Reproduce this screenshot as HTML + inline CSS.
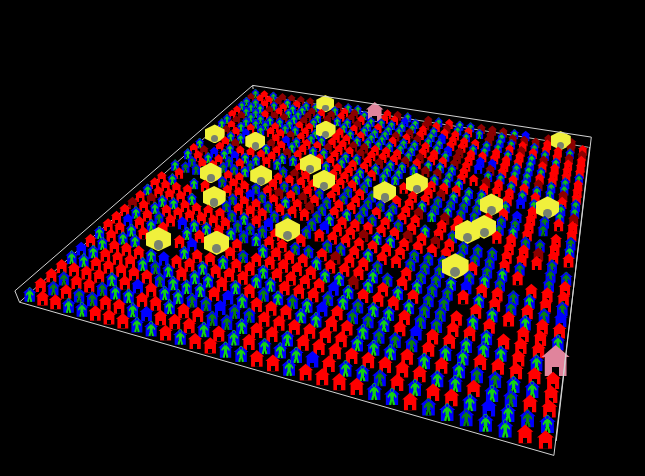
<!DOCTYPE html>
<html><head><meta charset="utf-8"><title>view</title>
<style>
html,body{margin:0;padding:0;background:#000;}
#v{position:relative;width:645px;height:476px;overflow:hidden;background:#000;}
#v i{position:absolute;display:block;}
.h{clip-path:polygon(5% 40%,50% 5%,95% 40%,85% 40%,85% 95%,15% 95%,15% 40%);}
.h::after{content:"";position:absolute;left:38%;top:68%;width:24%;height:27%;background:#000;}
.p{clip-path:polygon(50.0% 1.7%,50.0% 5.3%,45.2% 6.6%,41.6% 10.2%,40.3% 15.0%,41.6% 19.8%,45.2% 23.4%,50.0% 24.7%,54.8% 23.4%,58.4% 19.8%,59.7% 15.0%,58.4% 10.2%,54.8% 6.6%,50.0% 5.3%,50.0% 1.7%,54.2% 2.3%,58.0% 4.3%,60.9% 7.3%,62.8% 11.2%,63.3% 15.4%,62.5% 19.6%,60.5% 23.3%,57.3% 26.1%,57.3% 30.0%,65.0% 30.0%,80.0% 50.0%,75.0% 60.0%,62.9% 44.8%,60.0% 65.0%,70.0% 95.0%,65.0% 100.0%,55.0% 100.0%,50.0% 75.0%,45.0% 100.0%,35.0% 100.0%,30.0% 95.0%,40.0% 65.0%,37.1% 44.8%,25.0% 60.0%,20.0% 50.0%,35.0% 30.0%,42.7% 30.0%,42.7% 26.1%,39.5% 23.3%,37.5% 19.6%,36.7% 15.4%,37.2% 11.2%,39.1% 7.3%,42.0% 4.3%,45.8% 2.3%);}
.y{background:#f0f03c;clip-path:polygon(50% 0%,100% 27%,100% 74.7%,50% 100%,0% 74.7%,0% 27%);}
.c{border-radius:50%;background:#78826f;}
</style></head><body><div id="v">
<svg width="645" height="476" style="position:absolute;left:0;top:0" fill="none" stroke="#b4b4b4" stroke-width="1">
<path d="M19.5 302.2L253.6 94.3L588.6 147.3"/>
</svg><i class="h" style="left:250.8px;top:88.3px;width:9.3px;height:10.3px;background:#0000ff"></i><i class="p" style="left:251.4px;top:88.8px;width:8.1px;height:9.3px;background:#10c010"></i>
<i class="h" style="left:259.7px;top:89.7px;width:9.3px;height:10.3px;background:#ff0000"></i>
<i class="h" style="left:268.7px;top:91.1px;width:9.3px;height:10.4px;background:#0000ff"></i><i class="p" style="left:269.3px;top:91.6px;width:8.2px;height:9.3px;background:#10c010"></i>
<i class="h" style="left:246.3px;top:92.2px;width:9.4px;height:10.4px;background:#8c0000"></i>
<i class="h" style="left:277.8px;top:92.5px;width:9.4px;height:10.4px;background:#8c0000"></i>
<i class="h" style="left:255.3px;top:93.7px;width:9.4px;height:10.4px;background:#ff0000"></i>
<i class="h" style="left:286.9px;top:93.9px;width:9.4px;height:10.4px;background:#8c0000"></i>
<i class="h" style="left:264.4px;top:95.1px;width:9.4px;height:10.5px;background:#ff0000"></i>
<i class="h" style="left:296.1px;top:95.3px;width:9.5px;height:10.5px;background:#8c0000"></i>
<i class="h" style="left:241.7px;top:96.3px;width:9.5px;height:10.5px;background:#0000ff"></i><i class="p" style="left:242.3px;top:96.8px;width:8.3px;height:9.5px;background:#10c010"></i>
<i class="h" style="left:273.5px;top:96.5px;width:9.5px;height:10.5px;background:#8c0000"></i>
<i class="h" style="left:305.4px;top:96.8px;width:9.5px;height:10.5px;background:#8c0000"></i>
<i class="h" style="left:250.8px;top:97.7px;width:9.5px;height:10.6px;background:#0000ff"></i><i class="p" style="left:251.3px;top:98.2px;width:8.4px;height:9.5px;background:#10c010"></i>
<i class="h" style="left:282.7px;top:98.0px;width:9.5px;height:10.6px;background:#0000ff"></i><i class="p" style="left:283.3px;top:98.5px;width:8.4px;height:9.5px;background:#12d412"></i>
<i class="h" style="left:259.9px;top:99.2px;width:9.6px;height:10.6px;background:#ff0000"></i>
<i class="h" style="left:292.0px;top:99.4px;width:9.6px;height:10.6px;background:#ff0000"></i>
<i class="h" style="left:236.9px;top:100.4px;width:9.6px;height:10.6px;background:#0000ff"></i><i class="p" style="left:237.5px;top:100.9px;width:8.4px;height:9.6px;background:#10c010"></i>
<i class="h" style="left:269.2px;top:100.6px;width:9.6px;height:10.7px;background:#0000ff"></i><i class="p" style="left:269.7px;top:101.2px;width:8.4px;height:9.6px;background:#10c010"></i>
<i class="h" style="left:301.4px;top:100.9px;width:9.6px;height:10.7px;background:#0000ff"></i><i class="p" style="left:302.0px;top:101.4px;width:8.5px;height:9.6px;background:#10c010"></i>
<i class="h" style="left:333.7px;top:101.2px;width:9.6px;height:10.7px;background:#8c0000"></i>
<i class="h" style="left:246.1px;top:101.8px;width:9.6px;height:10.7px;background:#0000ff"></i><i class="p" style="left:246.7px;top:102.4px;width:8.5px;height:9.6px;background:#10c010"></i>
<i class="h" style="left:278.5px;top:102.1px;width:9.6px;height:10.7px;background:#ff0000"></i>
<i class="h" style="left:310.9px;top:102.4px;width:9.6px;height:10.7px;background:#0000ff"></i><i class="p" style="left:311.4px;top:102.9px;width:8.5px;height:9.6px;background:#10c010"></i>
<i class="h" style="left:343.3px;top:102.7px;width:9.7px;height:10.7px;background:#0000ff"></i><i class="p" style="left:343.9px;top:103.2px;width:8.5px;height:9.7px;background:#10c010"></i>
<i class="h" style="left:255.4px;top:103.3px;width:9.7px;height:10.7px;background:#0000ff"></i><i class="p" style="left:255.9px;top:103.9px;width:8.5px;height:9.7px;background:#12d412"></i>
<i class="h" style="left:287.9px;top:103.6px;width:9.7px;height:10.7px;background:#0000ff"></i><i class="p" style="left:288.4px;top:104.2px;width:8.5px;height:9.7px;background:#12d412"></i>
<i class="y" style="left:316.3px;top:95.1px;width:18.2px;height:17.4px"></i><i class="c" style="left:322.0px;top:104.7px;width:6.8px;height:6.8px"></i>
<i class="h" style="left:353.0px;top:104.2px;width:9.7px;height:10.8px;background:#0000ff"></i><i class="p" style="left:353.6px;top:104.7px;width:8.5px;height:9.7px;background:#10c010"></i>
<i class="h" style="left:232.1px;top:104.6px;width:9.7px;height:10.8px;background:#ff0000"></i>
<i class="h" style="left:264.7px;top:104.9px;width:9.7px;height:10.8px;background:#8c0000"></i>
<i class="h" style="left:297.3px;top:105.1px;width:9.7px;height:10.8px;background:#0000ff"></i><i class="p" style="left:297.9px;top:105.7px;width:8.6px;height:9.7px;background:#12d412"></i>
<i class="h" style="left:330.0px;top:105.4px;width:9.7px;height:10.8px;background:#0000ff"></i><i class="p" style="left:330.6px;top:105.9px;width:8.6px;height:9.7px;background:#10c010"></i>
<i class="h" style="left:241.3px;top:106.1px;width:9.8px;height:10.8px;background:#0000ff"></i><i class="p" style="left:241.9px;top:106.6px;width:8.6px;height:9.8px;background:#10c010"></i>
<i class="h" style="left:274.1px;top:106.4px;width:9.8px;height:10.8px;background:#ff0000"></i>
<i class="h" style="left:306.9px;top:106.7px;width:9.8px;height:10.8px;background:#8c0000"></i>
<i class="h" style="left:339.8px;top:106.9px;width:9.8px;height:10.9px;background:#ff0000"></i>
<i class="h" style="left:250.7px;top:107.6px;width:9.8px;height:10.9px;background:#0000ff"></i><i class="p" style="left:251.3px;top:108.2px;width:8.6px;height:9.8px;background:#10c010"></i>
<i class="h" style="left:283.6px;top:107.9px;width:9.8px;height:10.9px;background:#0000ff"></i><i class="p" style="left:284.2px;top:108.5px;width:8.6px;height:9.8px;background:#12d412"></i>
<i class="h" style="left:316.5px;top:108.2px;width:9.8px;height:10.9px;background:#ff0000"></i>
<i class="h" style="left:349.5px;top:108.5px;width:9.8px;height:10.9px;background:#8c0000"></i>
<i class="h" style="left:382.6px;top:108.8px;width:9.8px;height:10.9px;background:#ff0000"></i>
<i class="h" style="left:227.1px;top:108.9px;width:9.8px;height:10.9px;background:#ff0000"></i>
<i class="h" style="left:260.1px;top:109.2px;width:9.8px;height:10.9px;background:#ff0000"></i>
<i class="h" style="left:293.2px;top:109.5px;width:9.8px;height:10.9px;background:#0000ff"></i><i class="p" style="left:293.7px;top:110.0px;width:8.7px;height:9.8px;background:#10c010"></i>
<i class="h" style="left:326.3px;top:109.7px;width:9.9px;height:10.9px;background:#8c0000"></i>
<i class="h" style="left:359.4px;top:110.0px;width:9.9px;height:10.9px;background:#0000ff"></i><i class="p" style="left:360.0px;top:110.6px;width:8.7px;height:9.9px;background:#10c010"></i>
<i class="h" style="left:392.7px;top:110.3px;width:9.9px;height:11.0px;background:#8c0000"></i>
<i class="h" style="left:236.5px;top:110.4px;width:9.9px;height:11.0px;background:#8c0000"></i>
<i class="h" style="left:269.6px;top:110.7px;width:9.9px;height:11.0px;background:#8c0000"></i>
<i class="h" style="left:302.8px;top:111.0px;width:9.9px;height:11.0px;background:#8c0000"></i>
<i class="h" style="left:336.1px;top:111.3px;width:9.9px;height:11.0px;background:#ff0000"></i>
<i class="h" style="left:369.4px;top:111.6px;width:9.9px;height:11.0px;background:#0000ff"></i><i class="p" style="left:370.0px;top:112.2px;width:8.7px;height:9.9px;background:#10c010"></i>
<i class="h" style="left:402.8px;top:111.9px;width:9.9px;height:11.0px;background:#0000ff"></i><i class="p" style="left:403.4px;top:112.4px;width:8.7px;height:9.9px;background:#10c010"></i>
<i class="h" style="left:245.9px;top:112.0px;width:9.9px;height:11.0px;background:#0000ff"></i><i class="p" style="left:246.5px;top:112.6px;width:8.7px;height:9.9px;background:#10c010"></i>
<i class="h" style="left:279.2px;top:112.3px;width:9.9px;height:11.0px;background:#8c0000"></i>
<i class="h" style="left:312.6px;top:112.6px;width:9.9px;height:11.0px;background:#0000ff"></i><i class="p" style="left:313.2px;top:113.1px;width:8.7px;height:9.9px;background:#12d412"></i>
<i class="h" style="left:346.0px;top:112.9px;width:9.9px;height:11.0px;background:#8c0000"></i>
<i class="h" style="left:379.5px;top:113.2px;width:10.0px;height:11.0px;background:#ff0000"></i>
<i class="h" style="left:222.0px;top:113.3px;width:10.0px;height:11.0px;background:#0000ff"></i><i class="p" style="left:222.6px;top:113.9px;width:8.8px;height:10.0px;background:#10c010"></i>
<i class="h" style="left:365.0px;top:100.9px;width:19.5px;height:21.7px;background:#e0849c"></i>
<i class="h" style="left:255.4px;top:113.6px;width:10.0px;height:11.1px;background:#0000ff"></i><i class="p" style="left:256.0px;top:114.2px;width:8.8px;height:10.0px;background:#10c010"></i>
<i class="h" style="left:288.9px;top:113.9px;width:10.0px;height:11.1px;background:#0000ff"></i><i class="p" style="left:289.5px;top:114.4px;width:8.8px;height:10.0px;background:#12d412"></i>
<i class="h" style="left:322.4px;top:114.2px;width:10.0px;height:11.1px;background:#8c0000"></i>
<i class="h" style="left:356.0px;top:114.5px;width:10.0px;height:11.1px;background:#ff0000"></i>
<i class="h" style="left:389.6px;top:114.8px;width:10.0px;height:11.1px;background:#ff0000"></i>
<i class="h" style="left:231.4px;top:114.9px;width:10.0px;height:11.1px;background:#8c0000"></i>
<i class="h" style="left:423.3px;top:115.1px;width:10.0px;height:11.1px;background:#8c0000"></i>
<i class="h" style="left:265.0px;top:115.2px;width:10.0px;height:11.1px;background:#0000ff"></i><i class="p" style="left:265.6px;top:115.8px;width:8.8px;height:10.0px;background:#10c010"></i>
<i class="h" style="left:298.6px;top:115.5px;width:10.0px;height:11.1px;background:#8c0000"></i>
<i class="h" style="left:332.3px;top:115.8px;width:10.0px;height:11.1px;background:#0000ff"></i><i class="p" style="left:332.9px;top:116.4px;width:8.8px;height:10.0px;background:#12d412"></i>
<i class="h" style="left:366.1px;top:116.1px;width:10.0px;height:11.1px;background:#0000ff"></i><i class="p" style="left:366.7px;top:116.7px;width:8.8px;height:10.0px;background:#10c010"></i>
<i class="h" style="left:399.9px;top:116.4px;width:10.0px;height:11.1px;background:#0000ff"></i>
<i class="h" style="left:241.0px;top:116.5px;width:10.0px;height:11.1px;background:#0000ff"></i><i class="p" style="left:241.6px;top:117.1px;width:8.8px;height:10.0px;background:#10c010"></i>
<i class="h" style="left:433.7px;top:116.7px;width:10.0px;height:11.2px;background:#0000ff"></i><i class="p" style="left:434.3px;top:117.2px;width:8.8px;height:10.0px;background:#10c010"></i>
<i class="h" style="left:274.7px;top:116.8px;width:10.1px;height:11.2px;background:#0000ff"></i><i class="p" style="left:275.3px;top:117.4px;width:8.8px;height:10.1px;background:#10c010"></i>
<i class="h" style="left:308.5px;top:117.1px;width:10.1px;height:11.2px;background:#0000ff"></i><i class="p" style="left:309.1px;top:117.7px;width:8.9px;height:10.1px;background:#10c010"></i>
<i class="h" style="left:342.3px;top:117.4px;width:10.1px;height:11.2px;background:#0000ff"></i><i class="p" style="left:342.9px;top:118.0px;width:8.9px;height:10.1px;background:#10c010"></i>
<i class="h" style="left:376.2px;top:117.7px;width:10.1px;height:11.2px;background:#0000ff"></i><i class="p" style="left:376.8px;top:118.3px;width:8.9px;height:10.1px;background:#10c010"></i>
<i class="h" style="left:216.8px;top:117.9px;width:10.1px;height:11.2px;background:#0000ff"></i><i class="p" style="left:217.4px;top:118.4px;width:8.9px;height:10.1px;background:#12d412"></i>
<i class="h" style="left:410.2px;top:118.0px;width:10.1px;height:11.2px;background:#0000ff"></i><i class="p" style="left:410.8px;top:118.6px;width:8.9px;height:10.1px;background:#12d412"></i>
<i class="h" style="left:250.6px;top:118.2px;width:10.1px;height:11.2px;background:#0000ff"></i><i class="p" style="left:251.2px;top:118.7px;width:8.9px;height:10.1px;background:#10c010"></i>
<i class="h" style="left:444.2px;top:118.3px;width:10.1px;height:11.2px;background:#ff0000"></i>
<i class="h" style="left:284.5px;top:118.5px;width:10.1px;height:11.2px;background:#0000ff"></i><i class="p" style="left:285.1px;top:119.0px;width:8.9px;height:10.1px;background:#10c010"></i>
<i class="h" style="left:352.4px;top:119.1px;width:10.1px;height:11.2px;background:#8c0000"></i>
<i class="h" style="left:386.5px;top:119.4px;width:10.1px;height:11.2px;background:#0000ff"></i><i class="p" style="left:387.1px;top:119.9px;width:8.9px;height:10.1px;background:#10c010"></i>
<i class="h" style="left:226.3px;top:119.5px;width:10.1px;height:11.2px;background:#ff0000"></i>
<i class="h" style="left:420.6px;top:119.7px;width:10.1px;height:11.2px;background:#8c0000"></i>
<i class="h" style="left:260.3px;top:119.8px;width:10.1px;height:11.2px;background:#0000ff"></i><i class="p" style="left:260.9px;top:120.4px;width:8.9px;height:10.1px;background:#10c010"></i>
<i class="h" style="left:454.8px;top:120.0px;width:10.1px;height:11.3px;background:#0000ff"></i><i class="p" style="left:455.4px;top:120.5px;width:8.9px;height:10.1px;background:#12d412"></i>
<i class="h" style="left:294.3px;top:120.1px;width:10.1px;height:11.3px;background:#ff0000"></i>
<i class="h" style="left:362.6px;top:120.7px;width:10.2px;height:11.3px;background:#0000ff"></i><i class="p" style="left:363.2px;top:121.3px;width:8.9px;height:10.2px;background:#12d412"></i>
<i class="h" style="left:396.9px;top:121.0px;width:10.2px;height:11.3px;background:#0000ff"></i><i class="p" style="left:397.5px;top:121.6px;width:8.9px;height:10.2px;background:#12d412"></i>
<i class="h" style="left:235.9px;top:121.1px;width:10.2px;height:11.3px;background:#0000ff"></i><i class="p" style="left:236.5px;top:121.7px;width:9.0px;height:10.2px;background:#12d412"></i>
<i class="h" style="left:431.2px;top:121.3px;width:10.2px;height:11.3px;background:#ff0000"></i>
<i class="h" style="left:270.1px;top:121.5px;width:10.2px;height:11.3px;background:#ff0000"></i>
<i class="h" style="left:465.5px;top:121.6px;width:10.2px;height:11.3px;background:#0000ff"></i><i class="p" style="left:466.1px;top:122.2px;width:9.0px;height:10.2px;background:#10c010"></i>
<i class="h" style="left:304.3px;top:121.8px;width:10.2px;height:11.3px;background:#ff0000"></i>
<i class="h" style="left:338.6px;top:122.1px;width:10.2px;height:11.3px;background:#0000ff"></i><i class="p" style="left:339.2px;top:122.6px;width:9.0px;height:10.2px;background:#10c010"></i>
<i class="h" style="left:372.9px;top:122.4px;width:10.2px;height:11.3px;background:#ff0000"></i>
<i class="h" style="left:407.3px;top:122.7px;width:10.2px;height:11.3px;background:#0000ff"></i><i class="p" style="left:407.9px;top:123.2px;width:9.0px;height:10.2px;background:#10c010"></i>
<i class="h" style="left:245.6px;top:122.8px;width:10.2px;height:11.3px;background:#ff0000"></i>
<i class="h" style="left:441.8px;top:123.0px;width:10.2px;height:11.4px;background:#8c0000"></i>
<i class="h" style="left:280.0px;top:123.1px;width:10.2px;height:11.4px;background:#0000ff"></i><i class="p" style="left:280.6px;top:123.7px;width:9.0px;height:10.2px;background:#10c010"></i>
<i class="h" style="left:476.3px;top:123.3px;width:10.2px;height:11.4px;background:#8c0000"></i>
<i class="h" style="left:348.8px;top:123.7px;width:10.2px;height:11.4px;background:#ff0000"></i>
<i class="h" style="left:383.3px;top:124.1px;width:10.3px;height:11.4px;background:#0000ff"></i><i class="p" style="left:383.9px;top:124.6px;width:9.0px;height:10.3px;background:#10c010"></i>
<i class="h" style="left:221.0px;top:124.2px;width:10.3px;height:11.4px;background:#8c0000"></i>
<i class="h" style="left:417.9px;top:124.4px;width:10.3px;height:11.4px;background:#ff0000"></i>
<i class="h" style="left:255.5px;top:124.5px;width:10.3px;height:11.4px;background:#0000ff"></i><i class="p" style="left:256.1px;top:125.1px;width:9.0px;height:10.3px;background:#10c010"></i>
<i class="h" style="left:452.5px;top:124.7px;width:10.3px;height:11.4px;background:#0000ff"></i><i class="p" style="left:453.1px;top:125.2px;width:9.0px;height:10.3px;background:#10c010"></i>
<i class="h" style="left:289.9px;top:124.8px;width:10.3px;height:11.4px;background:#0000ff"></i><i class="p" style="left:290.6px;top:125.4px;width:9.0px;height:10.3px;background:#10c010"></i>
<i class="h" style="left:487.2px;top:125.0px;width:10.3px;height:11.4px;background:#8c0000"></i>
<i class="h" style="left:359.1px;top:125.4px;width:10.3px;height:11.4px;background:#0000ff"></i><i class="p" style="left:359.7px;top:126.0px;width:9.1px;height:10.3px;background:#10c010"></i>
<i class="h" style="left:393.8px;top:125.8px;width:10.3px;height:11.4px;background:#0000ff"></i><i class="p" style="left:394.4px;top:126.3px;width:9.1px;height:10.3px;background:#10c010"></i>
<i class="h" style="left:230.8px;top:125.9px;width:10.3px;height:11.4px;background:#ff0000"></i>
<i class="h" style="left:428.5px;top:126.1px;width:10.3px;height:11.4px;background:#0000ff"></i><i class="p" style="left:429.1px;top:126.6px;width:9.1px;height:10.3px;background:#10c010"></i>
<i class="h" style="left:265.4px;top:126.2px;width:10.3px;height:11.4px;background:#ff0000"></i>
<i class="h" style="left:463.3px;top:126.4px;width:10.3px;height:11.5px;background:#ff0000"></i>
<i class="h" style="left:300.0px;top:126.5px;width:10.3px;height:11.5px;background:#ff0000"></i>
<i class="h" style="left:498.2px;top:126.7px;width:10.3px;height:11.5px;background:#8c0000"></i>
<i class="h" style="left:334.7px;top:126.8px;width:10.3px;height:11.5px;background:#ff0000"></i>
<i class="h" style="left:369.5px;top:127.1px;width:10.3px;height:11.5px;background:#0000ff"></i><i class="p" style="left:370.1px;top:127.7px;width:9.1px;height:10.3px;background:#10c010"></i>
<i class="h" style="left:404.4px;top:127.5px;width:10.4px;height:11.5px;background:#8c0000"></i>
<i class="h" style="left:240.6px;top:127.6px;width:10.4px;height:11.5px;background:#0000ff"></i>
<i class="h" style="left:439.3px;top:127.8px;width:10.4px;height:11.5px;background:#ff0000"></i>
<i class="h" style="left:275.3px;top:127.9px;width:10.4px;height:11.5px;background:#ff0000"></i>
<i class="h" style="left:474.3px;top:128.1px;width:10.4px;height:11.5px;background:#0000ff"></i><i class="p" style="left:474.9px;top:128.7px;width:9.1px;height:10.4px;background:#10c010"></i>
<i class="h" style="left:310.2px;top:128.2px;width:10.4px;height:11.5px;background:#0000ff"></i><i class="p" style="left:310.8px;top:128.8px;width:9.1px;height:10.4px;background:#10c010"></i>
<i class="h" style="left:509.3px;top:128.4px;width:10.4px;height:11.5px;background:#0000ff"></i><i class="p" style="left:509.9px;top:129.0px;width:9.1px;height:10.4px;background:#12d412"></i>
<i class="h" style="left:345.1px;top:128.6px;width:10.4px;height:11.5px;background:#0000ff"></i><i class="p" style="left:345.7px;top:129.1px;width:9.1px;height:10.4px;background:#10c010"></i>
<i class="h" style="left:380.0px;top:128.9px;width:10.4px;height:11.5px;background:#0000ff"></i><i class="p" style="left:380.6px;top:129.4px;width:9.1px;height:10.4px;background:#10c010"></i>
<i class="h" style="left:415.0px;top:129.2px;width:10.4px;height:11.5px;background:#ff0000"></i>
<i class="h" style="left:450.1px;top:129.5px;width:10.4px;height:11.6px;background:#ff0000"></i>
<i class="h" style="left:285.4px;top:129.6px;width:10.4px;height:11.6px;background:#8c0000"></i>
<i class="h" style="left:485.3px;top:129.8px;width:10.4px;height:11.6px;background:#8c0000"></i>
<i class="y" style="left:316.0px;top:120.5px;width:19.6px;height:18.8px"></i><i class="c" style="left:322.1px;top:130.9px;width:7.3px;height:7.3px"></i>
<i class="h" style="left:520.5px;top:130.2px;width:10.4px;height:11.6px;background:#0000ff"></i>
<i class="h" style="left:355.5px;top:130.3px;width:10.4px;height:11.6px;background:#ff0000"></i>
<i class="h" style="left:390.6px;top:130.6px;width:10.4px;height:11.6px;background:#8c0000"></i>
<i class="h" style="left:225.5px;top:130.7px;width:10.4px;height:11.6px;background:#0000ff"></i><i class="p" style="left:226.1px;top:131.3px;width:9.2px;height:10.4px;background:#12d412"></i>
<i class="h" style="left:425.8px;top:130.9px;width:10.4px;height:11.6px;background:#0000ff"></i><i class="p" style="left:426.5px;top:131.5px;width:9.2px;height:10.4px;background:#10c010"></i>
<i class="h" style="left:461.1px;top:131.3px;width:10.5px;height:11.6px;background:#0000ff"></i><i class="p" style="left:461.7px;top:131.8px;width:9.2px;height:10.5px;background:#10c010"></i>
<i class="h" style="left:295.6px;top:131.4px;width:10.5px;height:11.6px;background:#ff0000"></i>
<i class="h" style="left:496.4px;top:131.6px;width:10.5px;height:11.6px;background:#0000ff"></i><i class="p" style="left:497.0px;top:132.2px;width:9.2px;height:10.5px;background:#12d412"></i>
<i class="h" style="left:330.8px;top:131.7px;width:10.5px;height:11.6px;background:#ff0000"></i>
<i class="h" style="left:366.0px;top:132.0px;width:10.5px;height:11.6px;background:#0000ff"></i><i class="p" style="left:366.7px;top:132.6px;width:9.2px;height:10.5px;background:#10c010"></i>
<i class="h" style="left:401.3px;top:132.4px;width:10.5px;height:11.6px;background:#ff0000"></i>
<i class="h" style="left:235.4px;top:132.5px;width:10.5px;height:11.6px;background:#0000ff"></i><i class="p" style="left:236.0px;top:133.1px;width:9.2px;height:10.5px;background:#12d412"></i>
<i class="h" style="left:436.7px;top:132.7px;width:10.5px;height:11.7px;background:#0000ff"></i>
<i class="h" style="left:270.6px;top:132.8px;width:10.5px;height:11.7px;background:#ff0000"></i>
<i class="h" style="left:305.9px;top:133.2px;width:10.5px;height:11.7px;background:#0000ff"></i><i class="p" style="left:306.5px;top:133.7px;width:9.2px;height:10.5px;background:#10c010"></i>
<i class="h" style="left:507.6px;top:133.4px;width:10.5px;height:11.7px;background:#8c0000"></i>
<i class="h" style="left:341.2px;top:133.5px;width:10.5px;height:11.7px;background:#ff0000"></i>
<i class="h" style="left:543.2px;top:133.7px;width:10.5px;height:11.7px;background:#8c0000"></i>
<i class="h" style="left:376.7px;top:133.8px;width:10.5px;height:11.7px;background:#0000ff"></i><i class="p" style="left:377.3px;top:134.4px;width:9.3px;height:10.5px;background:#10c010"></i>
<i class="y" style="left:204.8px;top:124.4px;width:19.8px;height:19.0px"></i><i class="c" style="left:211.0px;top:134.8px;width:7.4px;height:7.4px"></i>
<i class="h" style="left:412.1px;top:134.1px;width:10.5px;height:11.7px;background:#8c0000"></i>
<i class="h" style="left:447.7px;top:134.5px;width:10.5px;height:11.7px;background:#ff0000"></i>
<i class="h" style="left:280.8px;top:134.6px;width:10.5px;height:11.7px;background:#0000ff"></i>
<i class="h" style="left:483.3px;top:134.8px;width:10.6px;height:11.7px;background:#8c0000"></i>
<i class="h" style="left:316.3px;top:134.9px;width:10.6px;height:11.7px;background:#0000ff"></i><i class="p" style="left:316.9px;top:135.5px;width:9.3px;height:10.6px;background:#10c010"></i>
<i class="h" style="left:519.0px;top:135.1px;width:10.6px;height:11.7px;background:#8c0000"></i>
<i class="h" style="left:351.8px;top:135.3px;width:10.6px;height:11.7px;background:#0000ff"></i><i class="p" style="left:352.4px;top:135.9px;width:9.3px;height:10.6px;background:#10c010"></i>
<i class="h" style="left:387.4px;top:135.6px;width:10.6px;height:11.7px;background:#ff0000"></i>
<i class="h" style="left:220.0px;top:135.7px;width:10.6px;height:11.7px;background:#ff0000"></i>
<i class="h" style="left:423.0px;top:135.9px;width:10.6px;height:11.8px;background:#0000ff"></i><i class="p" style="left:423.7px;top:136.5px;width:9.3px;height:10.6px;background:#10c010"></i>
<i class="h" style="left:458.8px;top:136.3px;width:10.6px;height:11.8px;background:#ff0000"></i>
<i class="h" style="left:291.1px;top:136.4px;width:10.6px;height:11.8px;background:#0000ff"></i><i class="p" style="left:291.7px;top:137.0px;width:9.3px;height:10.6px;background:#10c010"></i>
<i class="h" style="left:494.6px;top:136.6px;width:10.6px;height:11.8px;background:#0000ff"></i><i class="p" style="left:495.2px;top:137.2px;width:9.3px;height:10.6px;background:#10c010"></i>
<i class="h" style="left:326.7px;top:136.7px;width:10.6px;height:11.8px;background:#ff0000"></i>
<i class="h" style="left:530.4px;top:136.9px;width:10.6px;height:11.8px;background:#8c0000"></i>
<i class="h" style="left:362.4px;top:137.1px;width:10.6px;height:11.8px;background:#0000ff"></i><i class="p" style="left:363.1px;top:137.7px;width:9.3px;height:10.6px;background:#10c010"></i>
<i class="h" style="left:194.4px;top:137.2px;width:10.6px;height:11.8px;background:#0000ff"></i><i class="p" style="left:195.0px;top:137.8px;width:9.3px;height:10.6px;background:#12d412"></i>
<i class="h" style="left:566.4px;top:137.3px;width:10.6px;height:11.8px;background:#8c0000"></i>
<i class="h" style="left:398.2px;top:137.4px;width:10.6px;height:11.8px;background:#0000ff"></i><i class="p" style="left:398.9px;top:138.0px;width:9.4px;height:10.6px;background:#10c010"></i>
<i class="h" style="left:230.0px;top:137.5px;width:10.6px;height:11.8px;background:#8c0000"></i>
<i class="h" style="left:434.1px;top:137.7px;width:10.6px;height:11.8px;background:#0000ff"></i><i class="p" style="left:434.7px;top:138.3px;width:9.4px;height:10.6px;background:#10c010"></i>
<i class="h" style="left:265.7px;top:137.9px;width:10.6px;height:11.8px;background:#8c0000"></i>
<i class="h" style="left:470.0px;top:138.1px;width:10.6px;height:11.8px;background:#ff0000"></i>
<i class="h" style="left:301.5px;top:138.2px;width:10.6px;height:11.8px;background:#ff0000"></i>
<i class="h" style="left:506.0px;top:138.4px;width:10.7px;height:11.8px;background:#0000ff"></i><i class="p" style="left:506.6px;top:139.0px;width:9.4px;height:10.7px;background:#10c010"></i>
<i class="h" style="left:337.3px;top:138.6px;width:10.7px;height:11.8px;background:#ff0000"></i>
<i class="h" style="left:542.0px;top:138.8px;width:10.7px;height:11.8px;background:#ff0000"></i>
<i class="h" style="left:373.2px;top:138.9px;width:10.7px;height:11.8px;background:#0000ff"></i><i class="p" style="left:373.8px;top:139.5px;width:9.4px;height:10.7px;background:#10c010"></i>
<i class="h" style="left:409.2px;top:139.2px;width:10.7px;height:11.9px;background:#0000ff"></i><i class="p" style="left:409.8px;top:139.8px;width:9.4px;height:10.7px;background:#10c010"></i>
<i class="h" style="left:445.2px;top:139.6px;width:10.7px;height:11.9px;background:#ff0000"></i>
<i class="h" style="left:276.0px;top:139.7px;width:10.7px;height:11.9px;background:#ff0000"></i>
<i class="h" style="left:481.3px;top:139.9px;width:10.7px;height:11.9px;background:#0000ff"></i><i class="p" style="left:481.9px;top:140.5px;width:9.4px;height:10.7px;background:#10c010"></i>
<i class="h" style="left:312.0px;top:140.1px;width:10.7px;height:11.9px;background:#ff0000"></i>
<i class="h" style="left:517.4px;top:140.3px;width:10.7px;height:11.9px;background:#ff0000"></i>
<i class="h" style="left:348.0px;top:140.4px;width:10.7px;height:11.9px;background:#8c0000"></i>
<i class="y" style="left:550.6px;top:130.9px;width:20.2px;height:19.3px"></i><i class="c" style="left:556.9px;top:141.5px;width:7.5px;height:7.5px"></i>
<i class="h" style="left:384.1px;top:140.7px;width:10.7px;height:11.9px;background:#0000ff"></i><i class="p" style="left:384.7px;top:141.3px;width:9.4px;height:10.7px;background:#10c010"></i>
<i class="h" style="left:214.4px;top:140.9px;width:10.7px;height:11.9px;background:#ff0000"></i>
<i class="h" style="left:420.2px;top:141.1px;width:10.7px;height:11.9px;background:#ff0000"></i>
<i class="y" style="left:245.3px;top:131.5px;width:20.2px;height:19.3px"></i><i class="c" style="left:251.6px;top:142.1px;width:7.5px;height:7.5px"></i>
<i class="h" style="left:456.4px;top:141.4px;width:10.7px;height:11.9px;background:#ff0000"></i>
<i class="h" style="left:286.4px;top:141.6px;width:10.7px;height:11.9px;background:#0000ff"></i><i class="p" style="left:287.1px;top:142.1px;width:9.5px;height:10.7px;background:#12d412"></i>
<i class="h" style="left:492.7px;top:141.8px;width:10.8px;height:11.9px;background:#0000ff"></i><i class="p" style="left:493.3px;top:142.4px;width:9.5px;height:10.8px;background:#10c010"></i>
<i class="h" style="left:322.6px;top:141.9px;width:10.8px;height:11.9px;background:#8c0000"></i>
<i class="h" style="left:529.0px;top:142.1px;width:10.8px;height:11.9px;background:#0000ff"></i><i class="p" style="left:529.7px;top:142.7px;width:9.5px;height:10.8px;background:#10c010"></i>
<i class="h" style="left:358.8px;top:142.2px;width:10.8px;height:11.9px;background:#8c0000"></i>
<i class="h" style="left:188.4px;top:142.4px;width:10.8px;height:11.9px;background:#ff0000"></i>
<i class="h" style="left:565.5px;top:142.4px;width:10.8px;height:12.0px;background:#8c0000"></i>
<i class="h" style="left:395.0px;top:142.6px;width:10.8px;height:12.0px;background:#0000ff"></i><i class="p" style="left:395.7px;top:143.2px;width:9.5px;height:10.8px;background:#10c010"></i>
<i class="h" style="left:224.5px;top:142.7px;width:10.8px;height:12.0px;background:#0000ff"></i><i class="p" style="left:225.2px;top:143.3px;width:9.5px;height:10.8px;background:#12d412"></i>
<i class="h" style="left:431.3px;top:142.9px;width:10.8px;height:12.0px;background:#0000ff"></i><i class="p" style="left:432.0px;top:143.5px;width:9.5px;height:10.8px;background:#10c010"></i>
<i class="h" style="left:260.7px;top:143.1px;width:10.8px;height:12.0px;background:#0000ff"></i><i class="p" style="left:261.4px;top:143.7px;width:9.5px;height:10.8px;background:#12d412"></i>
<i class="h" style="left:467.7px;top:143.3px;width:10.8px;height:12.0px;background:#0000ff"></i><i class="p" style="left:468.4px;top:143.9px;width:9.5px;height:10.8px;background:#10c010"></i>
<i class="h" style="left:297.0px;top:143.4px;width:10.8px;height:12.0px;background:#ff0000"></i>
<i class="h" style="left:504.2px;top:143.6px;width:10.8px;height:12.0px;background:#ff0000"></i>
<i class="h" style="left:333.3px;top:143.8px;width:10.8px;height:12.0px;background:#ff0000"></i>
<i class="h" style="left:540.7px;top:144.0px;width:10.8px;height:12.0px;background:#ff0000"></i>
<i class="h" style="left:369.6px;top:144.1px;width:10.8px;height:12.0px;background:#ff0000"></i>
<i class="h" style="left:198.5px;top:144.3px;width:10.8px;height:12.0px;background:#8c0000"></i>
<i class="h" style="left:577.4px;top:144.3px;width:10.8px;height:12.0px;background:#ff0000"></i>
<i class="h" style="left:406.1px;top:144.5px;width:10.8px;height:12.0px;background:#0000ff"></i><i class="p" style="left:406.7px;top:145.1px;width:9.5px;height:10.8px;background:#10c010"></i>
<i class="h" style="left:234.8px;top:144.6px;width:10.8px;height:12.0px;background:#ff0000"></i>
<i class="h" style="left:442.6px;top:144.8px;width:10.8px;height:12.0px;background:#0000ff"></i>
<i class="h" style="left:271.1px;top:144.9px;width:10.8px;height:12.0px;background:#ff0000"></i>
<i class="h" style="left:479.2px;top:145.2px;width:10.8px;height:12.0px;background:#0000ff"></i><i class="p" style="left:479.8px;top:145.8px;width:9.5px;height:10.8px;background:#10c010"></i>
<i class="h" style="left:307.6px;top:145.3px;width:10.8px;height:12.0px;background:#0000ff"></i><i class="p" style="left:308.2px;top:145.9px;width:9.5px;height:10.8px;background:#10c010"></i>
<i class="h" style="left:515.8px;top:145.5px;width:10.9px;height:12.1px;background:#8c0000"></i>
<i class="h" style="left:344.1px;top:145.6px;width:10.9px;height:12.1px;background:#ff0000"></i>
<i class="h" style="left:552.6px;top:145.9px;width:10.9px;height:12.1px;background:#ff0000"></i>
<i class="h" style="left:380.6px;top:146.0px;width:10.9px;height:12.1px;background:#ff0000"></i>
<i class="h" style="left:208.7px;top:146.1px;width:10.9px;height:12.1px;background:#0000ff"></i>
<i class="h" style="left:417.3px;top:146.4px;width:10.9px;height:12.1px;background:#ff0000"></i>
<i class="h" style="left:245.1px;top:146.5px;width:10.9px;height:12.1px;background:#ff0000"></i>
<i class="h" style="left:454.0px;top:146.7px;width:10.9px;height:12.1px;background:#8c0000"></i>
<i class="h" style="left:281.7px;top:146.8px;width:10.9px;height:12.1px;background:#8c0000"></i>
<i class="h" style="left:490.7px;top:147.1px;width:10.9px;height:12.1px;background:#ff0000"></i>
<i class="h" style="left:318.3px;top:147.2px;width:10.9px;height:12.1px;background:#0000ff"></i><i class="p" style="left:318.9px;top:147.8px;width:9.6px;height:10.9px;background:#10c010"></i>
<i class="h" style="left:527.6px;top:147.4px;width:10.9px;height:12.1px;background:#ff0000"></i>
<i class="h" style="left:355.0px;top:147.6px;width:10.9px;height:12.1px;background:#8c0000"></i>
<i class="h" style="left:182.3px;top:147.7px;width:10.9px;height:12.1px;background:#0000ff"></i><i class="p" style="left:183.0px;top:148.3px;width:9.6px;height:10.9px;background:#12d412"></i>
<i class="h" style="left:564.5px;top:147.8px;width:10.9px;height:12.1px;background:#0000ff"></i><i class="p" style="left:565.2px;top:148.4px;width:9.6px;height:10.9px;background:#10c010"></i>
<i class="h" style="left:391.7px;top:147.9px;width:10.9px;height:12.1px;background:#ff0000"></i>
<i class="h" style="left:218.9px;top:148.0px;width:10.9px;height:12.1px;background:#0000ff"></i><i class="p" style="left:219.6px;top:148.6px;width:9.6px;height:10.9px;background:#12d412"></i>
<i class="h" style="left:428.6px;top:148.3px;width:10.9px;height:12.1px;background:#ff0000"></i>
<i class="h" style="left:255.6px;top:148.4px;width:10.9px;height:12.1px;background:#ff0000"></i>
<i class="h" style="left:465.5px;top:148.6px;width:10.9px;height:12.1px;background:#ff0000"></i>
<i class="h" style="left:292.3px;top:148.8px;width:10.9px;height:12.1px;background:#ff0000"></i>
<i class="h" style="left:502.4px;top:149.0px;width:11.0px;height:12.2px;background:#0000ff"></i><i class="p" style="left:503.1px;top:149.6px;width:9.6px;height:11.0px;background:#10c010"></i>
<i class="h" style="left:329.1px;top:149.1px;width:11.0px;height:12.2px;background:#ff0000"></i>
<i class="h" style="left:539.5px;top:149.3px;width:11.0px;height:12.2px;background:#0000ff"></i><i class="p" style="left:540.1px;top:149.9px;width:9.6px;height:11.0px;background:#10c010"></i>
<i class="h" style="left:366.0px;top:149.5px;width:11.0px;height:12.2px;background:#ff0000"></i>
<i class="h" style="left:192.5px;top:149.6px;width:11.0px;height:12.2px;background:#ff0000"></i>
<i class="h" style="left:576.6px;top:149.7px;width:11.0px;height:12.2px;background:#8c0000"></i>
<i class="h" style="left:402.9px;top:149.8px;width:11.0px;height:12.2px;background:#0000ff"></i><i class="p" style="left:403.6px;top:150.4px;width:9.7px;height:11.0px;background:#10c010"></i>
<i class="h" style="left:229.3px;top:150.0px;width:11.0px;height:12.2px;background:#0000ff"></i>
<i class="h" style="left:440.0px;top:150.2px;width:11.0px;height:12.2px;background:#0000ff"></i><i class="p" style="left:440.6px;top:150.8px;width:9.7px;height:11.0px;background:#10c010"></i>
<i class="h" style="left:266.1px;top:150.3px;width:11.0px;height:12.2px;background:#ff0000"></i>
<i class="h" style="left:477.0px;top:150.6px;width:11.0px;height:12.2px;background:#ff0000"></i>
<i class="h" style="left:514.2px;top:150.9px;width:11.0px;height:12.2px;background:#ff0000"></i>
<i class="h" style="left:340.0px;top:151.1px;width:11.0px;height:12.2px;background:#0000ff"></i><i class="p" style="left:340.7px;top:151.7px;width:9.7px;height:11.0px;background:#10c010"></i>
<i class="h" style="left:551.4px;top:151.3px;width:11.0px;height:12.2px;background:#ff0000"></i>
<i class="h" style="left:377.1px;top:151.4px;width:11.0px;height:12.2px;background:#ff0000"></i>
<i class="h" style="left:202.7px;top:151.6px;width:11.0px;height:12.2px;background:#0000ff"></i><i class="p" style="left:203.4px;top:152.2px;width:9.7px;height:11.0px;background:#12d412"></i>
<i class="h" style="left:414.3px;top:151.8px;width:11.0px;height:12.2px;background:#8c0000"></i>
<i class="h" style="left:239.7px;top:151.9px;width:11.0px;height:12.2px;background:#0000ff"></i><i class="p" style="left:240.4px;top:152.5px;width:9.7px;height:11.0px;background:#12d412"></i>
<i class="h" style="left:451.5px;top:152.1px;width:11.0px;height:12.3px;background:#8c0000"></i>
<i class="h" style="left:276.8px;top:152.3px;width:11.0px;height:12.3px;background:#0000ff"></i><i class="p" style="left:277.4px;top:152.9px;width:9.7px;height:11.0px;background:#12d412"></i>
<i class="h" style="left:488.8px;top:152.5px;width:11.1px;height:12.3px;background:#ff0000"></i>
<i class="h" style="left:313.9px;top:152.6px;width:11.1px;height:12.3px;background:#ff0000"></i>
<i class="h" style="left:526.1px;top:152.9px;width:11.1px;height:12.3px;background:#0000ff"></i><i class="p" style="left:526.8px;top:153.5px;width:9.7px;height:11.1px;background:#12d412"></i>
<i class="h" style="left:351.1px;top:153.0px;width:11.1px;height:12.3px;background:#0000ff"></i><i class="p" style="left:351.7px;top:153.6px;width:9.7px;height:11.1px;background:#10c010"></i>
<i class="h" style="left:563.6px;top:153.2px;width:11.1px;height:12.3px;background:#8c0000"></i>
<i class="h" style="left:388.3px;top:153.4px;width:11.1px;height:12.3px;background:#ff0000"></i>
<i class="h" style="left:213.1px;top:153.5px;width:11.1px;height:12.3px;background:#ff0000"></i>
<i class="h" style="left:425.7px;top:153.7px;width:11.1px;height:12.3px;background:#ff0000"></i>
<i class="h" style="left:250.3px;top:153.9px;width:11.1px;height:12.3px;background:#0000ff"></i><i class="p" style="left:250.9px;top:154.5px;width:9.8px;height:11.1px;background:#10c010"></i>
<i class="h" style="left:463.1px;top:154.1px;width:11.1px;height:12.3px;background:#ff0000"></i>
<i class="h" style="left:287.5px;top:154.3px;width:11.1px;height:12.3px;background:#0000ff"></i><i class="p" style="left:288.2px;top:154.9px;width:9.8px;height:11.1px;background:#10c010"></i>
<i class="h" style="left:500.6px;top:154.5px;width:11.1px;height:12.3px;background:#ff0000"></i>
<i class="h" style="left:324.8px;top:154.6px;width:11.1px;height:12.3px;background:#ff0000"></i>
<i class="h" style="left:538.1px;top:154.8px;width:11.1px;height:12.3px;background:#8c0000"></i>
<i class="h" style="left:362.2px;top:155.0px;width:11.1px;height:12.3px;background:#ff0000"></i>
<i class="h" style="left:186.3px;top:155.1px;width:11.1px;height:12.3px;background:#0000ff"></i><i class="p" style="left:187.0px;top:155.7px;width:9.8px;height:11.1px;background:#0a820a"></i>
<i class="h" style="left:575.8px;top:155.2px;width:11.1px;height:12.4px;background:#ff0000"></i>
<i class="h" style="left:399.7px;top:155.4px;width:11.1px;height:12.4px;background:#8c0000"></i>
<i class="h" style="left:223.6px;top:155.5px;width:11.1px;height:12.4px;background:#0000ff"></i><i class="p" style="left:224.2px;top:156.1px;width:9.8px;height:11.1px;background:#0a820a"></i>
<i class="h" style="left:437.2px;top:155.7px;width:11.1px;height:12.4px;background:#ff0000"></i>
<i class="h" style="left:260.9px;top:155.9px;width:11.1px;height:12.4px;background:#ff0000"></i>
<i class="h" style="left:474.8px;top:156.1px;width:11.2px;height:12.4px;background:#0000ff"></i>
<i class="h" style="left:512.5px;top:156.5px;width:11.2px;height:12.4px;background:#ff0000"></i>
<i class="h" style="left:335.9px;top:156.6px;width:11.2px;height:12.4px;background:#0000ff"></i><i class="p" style="left:336.6px;top:157.2px;width:9.8px;height:11.2px;background:#10c010"></i>
<i class="h" style="left:550.3px;top:156.8px;width:11.2px;height:12.4px;background:#0000ff"></i><i class="p" style="left:551.0px;top:157.5px;width:9.8px;height:11.2px;background:#12d412"></i>
<i class="h" style="left:373.5px;top:157.0px;width:11.2px;height:12.4px;background:#8c0000"></i>
<i class="h" style="left:196.7px;top:157.1px;width:11.2px;height:12.4px;background:#ff0000"></i>
<i class="h" style="left:411.2px;top:157.4px;width:11.2px;height:12.4px;background:#ff0000"></i>
<i class="h" style="left:234.2px;top:157.5px;width:11.2px;height:12.4px;background:#ff0000"></i>
<i class="h" style="left:448.9px;top:157.7px;width:11.2px;height:12.4px;background:#8c0000"></i>
<i class="h" style="left:271.7px;top:157.9px;width:11.2px;height:12.4px;background:#0000ff"></i><i class="p" style="left:272.4px;top:158.5px;width:9.9px;height:11.2px;background:#10c010"></i>
<i class="h" style="left:486.7px;top:158.1px;width:11.2px;height:12.4px;background:#0000ff"></i>
<i class="h" style="left:524.6px;top:158.5px;width:11.2px;height:12.5px;background:#0000ff"></i><i class="p" style="left:525.3px;top:159.1px;width:9.9px;height:11.2px;background:#12d412"></i>
<i class="h" style="left:347.1px;top:158.6px;width:11.2px;height:12.5px;background:#ff0000"></i>
<i class="h" style="left:169.5px;top:158.8px;width:11.2px;height:12.5px;background:#0000ff"></i><i class="p" style="left:170.2px;top:159.4px;width:9.9px;height:11.2px;background:#12d412"></i>
<i class="h" style="left:562.6px;top:158.9px;width:11.2px;height:12.5px;background:#ff0000"></i>
<i class="h" style="left:384.9px;top:159.0px;width:11.2px;height:12.5px;background:#0000ff"></i><i class="p" style="left:385.5px;top:159.6px;width:9.9px;height:11.2px;background:#10c010"></i>
<i class="h" style="left:207.1px;top:159.1px;width:11.2px;height:12.5px;background:#ff0000"></i>
<i class="h" style="left:422.7px;top:159.4px;width:11.2px;height:12.5px;background:#0000ff"></i><i class="p" style="left:423.4px;top:160.0px;width:9.9px;height:11.2px;background:#12d412"></i>
<i class="h" style="left:244.8px;top:159.5px;width:11.2px;height:12.5px;background:#0000ff"></i><i class="p" style="left:245.5px;top:160.1px;width:9.9px;height:11.2px;background:#0a820a"></i>
<i class="h" style="left:460.7px;top:159.8px;width:11.3px;height:12.5px;background:#ff0000"></i>
<i class="h" style="left:498.7px;top:160.1px;width:11.3px;height:12.5px;background:#ff0000"></i>
<i class="h" style="left:320.5px;top:160.3px;width:11.3px;height:12.5px;background:#0000ff"></i><i class="p" style="left:321.1px;top:160.9px;width:9.9px;height:11.3px;background:#10c010"></i>
<i class="h" style="left:536.8px;top:160.5px;width:11.3px;height:12.5px;background:#ff0000"></i>
<i class="h" style="left:358.4px;top:160.7px;width:11.3px;height:12.5px;background:#ff0000"></i>
<i class="h" style="left:179.9px;top:160.8px;width:11.3px;height:12.5px;background:#0000ff"></i><i class="p" style="left:180.6px;top:161.4px;width:9.9px;height:11.3px;background:#0a820a"></i>
<i class="h" style="left:575.0px;top:160.9px;width:11.3px;height:12.5px;background:#ff0000"></i>
<i class="h" style="left:396.4px;top:161.0px;width:11.3px;height:12.5px;background:#0000ff"></i><i class="p" style="left:397.0px;top:161.7px;width:9.9px;height:11.3px;background:#10c010"></i>
<i class="h" style="left:217.7px;top:161.2px;width:11.3px;height:12.5px;background:#0000ff"></i><i class="p" style="left:218.4px;top:161.8px;width:9.9px;height:11.3px;background:#0a820a"></i>
<i class="h" style="left:434.4px;top:161.4px;width:11.3px;height:12.5px;background:#0000ff"></i><i class="p" style="left:435.1px;top:162.0px;width:9.9px;height:11.3px;background:#12d412"></i>
<i class="h" style="left:472.6px;top:161.8px;width:11.3px;height:12.6px;background:#0000ff"></i>
<i class="h" style="left:293.6px;top:161.9px;width:11.3px;height:12.6px;background:#ff0000"></i>
<i class="h" style="left:510.8px;top:162.2px;width:11.3px;height:12.6px;background:#0000ff"></i><i class="p" style="left:511.5px;top:162.8px;width:10.0px;height:11.3px;background:#10c010"></i>
<i class="h" style="left:331.7px;top:162.3px;width:11.3px;height:12.6px;background:#ff0000"></i>
<i class="h" style="left:549.1px;top:162.6px;width:11.3px;height:12.6px;background:#ff0000"></i>
<i class="h" style="left:369.8px;top:162.7px;width:11.3px;height:12.6px;background:#0000ff"></i><i class="p" style="left:370.5px;top:163.3px;width:10.0px;height:11.3px;background:#10c010"></i>
<i class="h" style="left:190.4px;top:162.9px;width:11.3px;height:12.6px;background:#0000ff"></i><i class="p" style="left:191.1px;top:163.5px;width:10.0px;height:11.3px;background:#0a820a"></i>
<i class="h" style="left:408.0px;top:163.1px;width:11.3px;height:12.6px;background:#0000ff"></i><i class="p" style="left:408.7px;top:163.7px;width:10.0px;height:11.3px;background:#10c010"></i>
<i class="h" style="left:228.4px;top:163.2px;width:11.3px;height:12.6px;background:#0000ff"></i><i class="p" style="left:229.1px;top:163.9px;width:10.0px;height:11.3px;background:#0a820a"></i>
<i class="h" style="left:446.2px;top:163.5px;width:11.4px;height:12.6px;background:#0000ff"></i><i class="p" style="left:446.9px;top:164.1px;width:10.0px;height:11.4px;background:#10c010"></i>
<i class="h" style="left:484.6px;top:163.9px;width:11.4px;height:12.6px;background:#8c0000"></i>
<i class="y" style="left:299.7px;top:153.7px;width:21.4px;height:20.5px"></i><i class="c" style="left:306.4px;top:165.0px;width:8.0px;height:8.0px"></i>
<i class="h" style="left:523.0px;top:164.2px;width:11.4px;height:12.6px;background:#0000ff"></i><i class="p" style="left:523.7px;top:164.9px;width:10.0px;height:11.4px;background:#12d412"></i>
<i class="h" style="left:343.0px;top:164.4px;width:11.4px;height:12.6px;background:#ff0000"></i>
<i class="h" style="left:561.5px;top:164.6px;width:11.4px;height:12.6px;background:#ff0000"></i>
<i class="h" style="left:381.3px;top:164.8px;width:11.4px;height:12.6px;background:#0000ff"></i><i class="p" style="left:382.0px;top:165.4px;width:10.0px;height:11.4px;background:#10c010"></i>
<i class="h" style="left:419.7px;top:165.2px;width:11.4px;height:12.7px;background:#8c0000"></i>
<i class="h" style="left:239.2px;top:165.3px;width:11.4px;height:12.7px;background:#0000ff"></i><i class="p" style="left:239.9px;top:165.9px;width:10.0px;height:11.4px;background:#12d412"></i>
<i class="h" style="left:458.2px;top:165.6px;width:11.4px;height:12.7px;background:#ff0000"></i>
<i class="h" style="left:277.6px;top:165.7px;width:11.4px;height:12.7px;background:#0000ff"></i><i class="p" style="left:278.2px;top:166.3px;width:10.0px;height:11.4px;background:#0a820a"></i>
<i class="h" style="left:496.7px;top:165.9px;width:11.4px;height:12.7px;background:#ff0000"></i>
<i class="h" style="left:535.4px;top:166.3px;width:11.4px;height:12.7px;background:#0000ff"></i><i class="p" style="left:536.1px;top:167.0px;width:10.1px;height:11.4px;background:#10c010"></i>
<i class="h" style="left:354.4px;top:166.5px;width:11.4px;height:12.7px;background:#0000ff"></i><i class="p" style="left:355.1px;top:167.1px;width:10.1px;height:11.4px;background:#10c010"></i>
<i class="h" style="left:173.4px;top:166.6px;width:11.4px;height:12.7px;background:#ff0000"></i>
<i class="h" style="left:574.1px;top:166.7px;width:11.4px;height:12.7px;background:#ff0000"></i>
<i class="h" style="left:392.9px;top:166.9px;width:11.5px;height:12.7px;background:#0000ff"></i><i class="p" style="left:393.6px;top:167.5px;width:10.1px;height:11.5px;background:#10c010"></i>
<i class="h" style="left:431.6px;top:167.3px;width:11.5px;height:12.7px;background:#8c0000"></i>
<i class="h" style="left:288.7px;top:167.8px;width:11.5px;height:12.7px;background:#8c0000"></i>
<i class="h" style="left:509.0px;top:168.1px;width:11.5px;height:12.7px;background:#0000ff"></i><i class="p" style="left:509.7px;top:168.7px;width:10.1px;height:11.5px;background:#10c010"></i>
<i class="h" style="left:327.3px;top:168.2px;width:11.5px;height:12.8px;background:#ff0000"></i>
<i class="h" style="left:547.9px;top:168.5px;width:11.5px;height:12.8px;background:#ff0000"></i>
<i class="h" style="left:365.9px;top:168.6px;width:11.5px;height:12.8px;background:#ff0000"></i>
<i class="h" style="left:222.5px;top:169.1px;width:11.5px;height:12.8px;background:#ff0000"></i>
<i class="h" style="left:443.5px;top:169.4px;width:11.5px;height:12.8px;background:#0000ff"></i><i class="p" style="left:444.2px;top:170.0px;width:10.1px;height:11.5px;background:#10c010"></i>
<i class="h" style="left:482.4px;top:169.8px;width:11.5px;height:12.8px;background:#0000ff"></i><i class="p" style="left:483.1px;top:170.4px;width:10.1px;height:11.5px;background:#10c010"></i>
<i class="h" style="left:299.9px;top:169.9px;width:11.5px;height:12.8px;background:#ff0000"></i>
<i class="h" style="left:521.4px;top:170.2px;width:11.5px;height:12.8px;background:#0000ff"></i><i class="p" style="left:522.1px;top:170.8px;width:10.2px;height:11.5px;background:#10c010"></i>
<i class="h" style="left:338.7px;top:170.3px;width:11.5px;height:12.8px;background:#ff0000"></i>
<i class="h" style="left:156.0px;top:170.5px;width:11.5px;height:12.8px;background:#ff0000"></i>
<i class="h" style="left:560.5px;top:170.6px;width:11.6px;height:12.8px;background:#ff0000"></i>
<i class="h" style="left:377.6px;top:170.7px;width:11.6px;height:12.8px;background:#0000ff"></i><i class="p" style="left:378.3px;top:171.4px;width:10.2px;height:11.6px;background:#10c010"></i>
<i class="h" style="left:233.5px;top:171.3px;width:11.6px;height:12.8px;background:#ff0000"></i>
<i class="h" style="left:455.6px;top:171.5px;width:11.6px;height:12.9px;background:#ff0000"></i>
<i class="h" style="left:272.3px;top:171.7px;width:11.6px;height:12.9px;background:#ff0000"></i>
<i class="h" style="left:494.7px;top:171.9px;width:11.6px;height:12.9px;background:#0000ff"></i><i class="p" style="left:495.4px;top:172.6px;width:10.2px;height:11.6px;background:#10c010"></i>
<i class="h" style="left:533.9px;top:172.3px;width:11.6px;height:12.9px;background:#ff0000"></i>
<i class="h" style="left:350.3px;top:172.5px;width:11.6px;height:12.9px;background:#0000ff"></i><i class="p" style="left:351.0px;top:173.1px;width:10.2px;height:11.6px;background:#12d412"></i>
<i class="h" style="left:166.6px;top:172.6px;width:11.6px;height:12.9px;background:#0000ff"></i><i class="p" style="left:167.3px;top:173.3px;width:10.2px;height:11.6px;background:#12d412"></i>
<i class="h" style="left:573.2px;top:172.7px;width:11.6px;height:12.9px;background:#0000ff"></i><i class="p" style="left:573.9px;top:173.4px;width:10.2px;height:11.6px;background:#10c010"></i>
<i class="h" style="left:389.4px;top:172.9px;width:11.6px;height:12.9px;background:#0000ff"></i><i class="p" style="left:390.1px;top:173.5px;width:10.2px;height:11.6px;background:#10c010"></i>
<i class="y" style="left:199.8px;top:162.5px;width:21.8px;height:20.9px"></i><i class="c" style="left:206.6px;top:174.0px;width:8.1px;height:8.1px"></i>
<i class="h" style="left:428.6px;top:173.3px;width:11.6px;height:12.9px;background:#0000ff"></i><i class="p" style="left:429.3px;top:173.9px;width:10.2px;height:11.6px;background:#10c010"></i>
<i class="h" style="left:467.8px;top:173.7px;width:11.6px;height:12.9px;background:#ff0000"></i>
<i class="h" style="left:283.6px;top:173.9px;width:11.6px;height:12.9px;background:#ff0000"></i>
<i class="h" style="left:507.2px;top:174.1px;width:11.7px;height:12.9px;background:#ff0000"></i>
<i class="h" style="left:546.6px;top:174.5px;width:11.7px;height:13.0px;background:#ff0000"></i>
<i class="h" style="left:362.0px;top:174.7px;width:11.7px;height:13.0px;background:#0000ff"></i><i class="p" style="left:362.7px;top:175.3px;width:10.3px;height:11.7px;background:#10c010"></i>
<i class="h" style="left:216.5px;top:175.2px;width:11.7px;height:13.0px;background:#0000ff"></i><i class="p" style="left:217.2px;top:175.9px;width:10.3px;height:11.7px;background:#0a820a"></i>
<i class="h" style="left:440.7px;top:175.5px;width:11.7px;height:13.0px;background:#0000ff"></i><i class="p" style="left:441.4px;top:176.1px;width:10.3px;height:11.7px;background:#12d412"></i>
<i class="y" style="left:250.2px;top:165.1px;width:22.0px;height:21.0px"></i><i class="c" style="left:257.1px;top:176.6px;width:8.2px;height:8.2px"></i>
<i class="h" style="left:480.2px;top:175.9px;width:11.7px;height:13.0px;background:#8c0000"></i>
<i class="h" style="left:295.0px;top:176.0px;width:11.7px;height:13.0px;background:#ff0000"></i>
<i class="h" style="left:519.8px;top:176.3px;width:11.7px;height:13.0px;background:#0000ff"></i><i class="p" style="left:520.5px;top:176.9px;width:10.3px;height:11.7px;background:#10c010"></i>
<i class="h" style="left:334.4px;top:176.5px;width:11.7px;height:13.0px;background:#ff0000"></i>
<i class="h" style="left:148.9px;top:176.6px;width:11.7px;height:13.0px;background:#ff0000"></i>
<i class="h" style="left:559.4px;top:176.7px;width:11.7px;height:13.0px;background:#0000ff"></i><i class="p" style="left:560.1px;top:177.4px;width:10.3px;height:11.7px;background:#10c010"></i>
<i class="h" style="left:188.2px;top:177.0px;width:11.7px;height:13.0px;background:#0000ff"></i><i class="p" style="left:188.9px;top:177.7px;width:10.3px;height:11.7px;background:#12d412"></i>
<i class="h" style="left:227.6px;top:177.4px;width:11.7px;height:13.0px;background:#ff0000"></i>
<i class="h" style="left:453.0px;top:177.7px;width:11.8px;height:13.0px;background:#0000ff"></i><i class="p" style="left:453.7px;top:178.3px;width:10.3px;height:11.8px;background:#12d412"></i>
<i class="h" style="left:267.0px;top:177.8px;width:11.8px;height:13.0px;background:#ff0000"></i>
<i class="h" style="left:492.7px;top:178.1px;width:11.8px;height:13.1px;background:#ff0000"></i>
<i class="h" style="left:306.5px;top:178.3px;width:11.8px;height:13.1px;background:#ff0000"></i>
<i class="h" style="left:532.5px;top:178.5px;width:11.8px;height:13.1px;background:#8c0000"></i>
<i class="h" style="left:346.1px;top:178.7px;width:11.8px;height:13.1px;background:#ff0000"></i>
<i class="h" style="left:159.7px;top:178.8px;width:11.8px;height:13.1px;background:#ff0000"></i>
<i class="h" style="left:572.3px;top:178.9px;width:11.8px;height:13.1px;background:#ff0000"></i>
<i class="h" style="left:199.2px;top:179.2px;width:11.8px;height:13.1px;background:#ff0000"></i>
<i class="h" style="left:425.5px;top:179.5px;width:11.8px;height:13.1px;background:#ff0000"></i>
<i class="h" style="left:238.7px;top:179.7px;width:11.8px;height:13.1px;background:#ff0000"></i>
<i class="h" style="left:278.4px;top:180.1px;width:11.8px;height:13.1px;background:#0000ff"></i><i class="p" style="left:279.1px;top:180.7px;width:10.4px;height:11.8px;background:#0a820a"></i>
<i class="h" style="left:505.3px;top:180.3px;width:11.8px;height:13.1px;background:#0000ff"></i><i class="p" style="left:506.0px;top:181.0px;width:10.4px;height:11.8px;background:#10c010"></i>
<i class="y" style="left:313.0px;top:169.8px;width:22.2px;height:21.3px"></i><i class="c" style="left:320.0px;top:181.5px;width:8.3px;height:8.3px"></i>
<i class="h" style="left:545.3px;top:180.8px;width:11.8px;height:13.1px;background:#0000ff"></i><i class="p" style="left:546.0px;top:181.4px;width:10.4px;height:11.8px;background:#10c010"></i>
<i class="h" style="left:357.9px;top:180.9px;width:11.8px;height:13.1px;background:#0000ff"></i><i class="p" style="left:358.7px;top:181.6px;width:10.4px;height:11.8px;background:#0a820a"></i>
<i class="h" style="left:170.5px;top:181.1px;width:11.8px;height:13.1px;background:#ff0000"></i>
<i class="h" style="left:397.8px;top:181.3px;width:11.9px;height:13.2px;background:#ff0000"></i>
<i class="h" style="left:437.8px;top:181.8px;width:11.9px;height:13.2px;background:#ff0000"></i>
<i class="h" style="left:250.0px;top:181.9px;width:11.9px;height:13.2px;background:#0000ff"></i><i class="p" style="left:250.8px;top:182.6px;width:10.4px;height:11.9px;background:#0a820a"></i>
<i class="h" style="left:477.9px;top:182.2px;width:11.9px;height:13.2px;background:#ff0000"></i>
<i class="h" style="left:289.9px;top:182.3px;width:11.9px;height:13.2px;background:#0000ff"></i><i class="p" style="left:290.6px;top:183.0px;width:10.5px;height:11.9px;background:#0a820a"></i>
<i class="h" style="left:518.1px;top:182.6px;width:11.9px;height:13.2px;background:#ff0000"></i>
<i class="h" style="left:329.9px;top:182.8px;width:11.9px;height:13.2px;background:#ff0000"></i>
<i class="h" style="left:141.7px;top:182.9px;width:11.9px;height:13.2px;background:#0000ff"></i><i class="p" style="left:142.4px;top:183.6px;width:10.5px;height:11.9px;background:#12d412"></i>
<i class="h" style="left:558.3px;top:183.0px;width:11.9px;height:13.2px;background:#0000ff"></i><i class="p" style="left:559.0px;top:183.7px;width:10.5px;height:11.9px;background:#10c010"></i>
<i class="h" style="left:181.5px;top:183.3px;width:11.9px;height:13.2px;background:#ff0000"></i>
<i class="y" style="left:405.5px;top:172.8px;width:22.4px;height:21.5px"></i><i class="c" style="left:412.5px;top:184.6px;width:8.3px;height:8.3px"></i>
<i class="h" style="left:221.4px;top:183.8px;width:11.9px;height:13.2px;background:#ff0000"></i>
<i class="h" style="left:450.3px;top:184.0px;width:11.9px;height:13.2px;background:#ff0000"></i>
<i class="h" style="left:261.5px;top:184.2px;width:11.9px;height:13.2px;background:#ff0000"></i>
<i class="h" style="left:490.6px;top:184.5px;width:11.9px;height:13.3px;background:#ff0000"></i>
<i class="h" style="left:301.6px;top:184.6px;width:11.9px;height:13.3px;background:#ff0000"></i>
<i class="h" style="left:530.9px;top:184.9px;width:12.0px;height:13.3px;background:#0000ff"></i><i class="p" style="left:531.7px;top:185.5px;width:10.5px;height:12.0px;background:#10c010"></i>
<i class="h" style="left:341.8px;top:185.0px;width:12.0px;height:13.3px;background:#0000ff"></i><i class="p" style="left:342.5px;top:185.7px;width:10.5px;height:12.0px;background:#0a820a"></i>
<i class="h" style="left:152.5px;top:185.2px;width:12.0px;height:13.3px;background:#ff0000"></i>
<i class="h" style="left:571.4px;top:185.3px;width:12.0px;height:13.3px;background:#ff0000"></i>
<i class="h" style="left:422.4px;top:185.9px;width:12.0px;height:13.3px;background:#ff0000"></i>
<i class="h" style="left:232.8px;top:186.1px;width:12.0px;height:13.3px;background:#ff0000"></i>
<i class="h" style="left:462.8px;top:186.3px;width:12.0px;height:13.3px;background:#0000ff"></i><i class="p" style="left:463.5px;top:187.0px;width:10.6px;height:12.0px;background:#10c010"></i>
<i class="h" style="left:273.0px;top:186.5px;width:12.0px;height:13.3px;background:#8c0000"></i>
<i class="h" style="left:503.4px;top:186.8px;width:12.0px;height:13.3px;background:#ff0000"></i>
<i class="h" style="left:313.3px;top:186.9px;width:12.0px;height:13.3px;background:#0000ff"></i><i class="p" style="left:314.1px;top:187.6px;width:10.6px;height:12.0px;background:#0a820a"></i>
<i class="h" style="left:544.0px;top:187.2px;width:12.0px;height:13.3px;background:#0000ff"></i><i class="p" style="left:544.7px;top:187.9px;width:10.6px;height:12.0px;background:#10c010"></i>
<i class="h" style="left:353.8px;top:187.4px;width:12.0px;height:13.3px;background:#ff0000"></i>
<i class="h" style="left:163.5px;top:187.5px;width:12.0px;height:13.3px;background:#ff0000"></i>
<i class="h" style="left:434.9px;top:188.2px;width:12.0px;height:13.4px;background:#8c0000"></i>
<i class="h" style="left:244.2px;top:188.4px;width:12.0px;height:13.4px;background:#0000ff"></i>
<i class="h" style="left:475.5px;top:188.7px;width:12.1px;height:13.4px;background:#0000ff"></i><i class="p" style="left:476.3px;top:189.3px;width:10.6px;height:12.1px;background:#10c010"></i>
<i class="h" style="left:284.7px;top:188.8px;width:12.1px;height:13.4px;background:#ff0000"></i>
<i class="h" style="left:516.3px;top:189.1px;width:12.1px;height:13.4px;background:#0000ff"></i><i class="p" style="left:517.0px;top:189.8px;width:10.6px;height:12.1px;background:#10c010"></i>
<i class="h" style="left:325.2px;top:189.3px;width:12.1px;height:13.4px;background:#ff0000"></i>
<i class="h" style="left:134.2px;top:189.4px;width:12.1px;height:13.4px;background:#ff0000"></i>
<i class="h" style="left:557.1px;top:189.5px;width:12.1px;height:13.4px;background:#8c0000"></i>
<i class="h" style="left:365.9px;top:189.7px;width:12.1px;height:13.4px;background:#0000ff"></i><i class="p" style="left:366.6px;top:190.4px;width:10.6px;height:12.1px;background:#0a820a"></i>
<i class="h" style="left:174.6px;top:189.8px;width:12.1px;height:13.4px;background:#ff0000"></i>
<i class="h" style="left:406.6px;top:190.1px;width:12.1px;height:13.4px;background:#ff0000"></i>
<i class="h" style="left:447.5px;top:190.6px;width:12.1px;height:13.4px;background:#0000ff"></i><i class="p" style="left:448.2px;top:191.2px;width:10.7px;height:12.1px;background:#12d412"></i>
<i class="h" style="left:255.8px;top:190.7px;width:12.1px;height:13.4px;background:#0000ff"></i><i class="p" style="left:256.5px;top:191.4px;width:10.7px;height:12.1px;background:#0a820a"></i>
<i class="h" style="left:296.5px;top:191.2px;width:12.1px;height:13.5px;background:#8c0000"></i>
<i class="h" style="left:529.4px;top:191.4px;width:12.1px;height:13.5px;background:#ff0000"></i>
<i class="h" style="left:337.3px;top:191.6px;width:12.1px;height:13.5px;background:#0000ff"></i><i class="p" style="left:338.0px;top:192.3px;width:10.7px;height:12.1px;background:#0a820a"></i>
<i class="h" style="left:145.2px;top:191.8px;width:12.1px;height:13.5px;background:#8c0000"></i>
<i class="h" style="left:570.5px;top:191.9px;width:12.2px;height:13.5px;background:#ff0000"></i>
<i class="y" style="left:373.3px;top:181.0px;width:22.8px;height:21.9px"></i><i class="c" style="left:380.5px;top:193.1px;width:8.5px;height:8.5px"></i>
<i class="h" style="left:185.8px;top:192.2px;width:12.2px;height:13.5px;background:#0000ff"></i><i class="p" style="left:186.6px;top:192.9px;width:10.7px;height:12.2px;background:#12d412"></i>
<i class="h" style="left:419.1px;top:192.5px;width:12.2px;height:13.5px;background:#ff0000"></i>
<i class="h" style="left:226.6px;top:192.7px;width:12.2px;height:13.5px;background:#0000ff"></i><i class="p" style="left:227.3px;top:193.3px;width:10.7px;height:12.2px;background:#0a820a"></i>
<i class="h" style="left:460.2px;top:192.9px;width:12.2px;height:13.5px;background:#0000ff"></i><i class="p" style="left:460.9px;top:193.6px;width:10.7px;height:12.2px;background:#12d412"></i>
<i class="h" style="left:267.5px;top:193.1px;width:12.2px;height:13.5px;background:#ff0000"></i>
<i class="h" style="left:501.4px;top:193.4px;width:12.2px;height:13.5px;background:#ff0000"></i>
<i class="h" style="left:308.4px;top:193.5px;width:12.2px;height:13.5px;background:#ff0000"></i>
<i class="h" style="left:349.5px;top:194.0px;width:12.2px;height:13.6px;background:#ff0000"></i>
<i class="h" style="left:156.3px;top:194.2px;width:12.2px;height:13.6px;background:#0000ff"></i><i class="p" style="left:157.0px;top:194.8px;width:10.7px;height:12.2px;background:#12d412"></i>
<i class="h" style="left:390.6px;top:194.4px;width:12.2px;height:13.6px;background:#ff0000"></i>
<i class="h" style="left:431.8px;top:194.9px;width:12.2px;height:13.6px;background:#0000ff"></i><i class="p" style="left:432.5px;top:195.6px;width:10.8px;height:12.2px;background:#0a820a"></i>
<i class="h" style="left:238.2px;top:195.0px;width:12.2px;height:13.6px;background:#ff0000"></i>
<i class="h" style="left:473.1px;top:195.3px;width:12.2px;height:13.6px;background:#0000ff"></i><i class="p" style="left:473.8px;top:196.0px;width:10.8px;height:12.2px;background:#10c010"></i>
<i class="h" style="left:279.3px;top:195.5px;width:12.2px;height:13.6px;background:#0000ff"></i><i class="p" style="left:280.0px;top:196.2px;width:10.8px;height:12.2px;background:#12d412"></i>
<i class="h" style="left:514.5px;top:195.8px;width:12.3px;height:13.6px;background:#0000ff"></i>
<i class="h" style="left:320.5px;top:195.9px;width:12.3px;height:13.6px;background:#0000ff"></i><i class="p" style="left:321.2px;top:196.6px;width:10.8px;height:12.3px;background:#0a820a"></i>
<i class="h" style="left:126.4px;top:196.1px;width:12.3px;height:13.6px;background:#8c0000"></i>
<i class="h" style="left:556.0px;top:196.2px;width:12.3px;height:13.6px;background:#ff0000"></i>
<i class="h" style="left:361.8px;top:196.4px;width:12.3px;height:13.6px;background:#0000ff"></i><i class="p" style="left:362.5px;top:197.1px;width:10.8px;height:12.3px;background:#0a820a"></i>
<i class="h" style="left:167.5px;top:196.6px;width:12.3px;height:13.6px;background:#0000ff"></i><i class="p" style="left:168.2px;top:197.2px;width:10.8px;height:12.3px;background:#12d412"></i>
<i class="h" style="left:403.1px;top:196.8px;width:12.3px;height:13.6px;background:#ff0000"></i>
<i class="y" style="left:202.6px;top:185.9px;width:23.1px;height:22.1px"></i><i class="c" style="left:209.9px;top:198.1px;width:8.6px;height:8.6px"></i>
<i class="h" style="left:444.6px;top:197.3px;width:12.3px;height:13.7px;background:#0000ff"></i><i class="p" style="left:445.3px;top:198.0px;width:10.8px;height:12.3px;background:#0a820a"></i>
<i class="h" style="left:249.9px;top:197.5px;width:12.3px;height:13.7px;background:#ff0000"></i>
<i class="h" style="left:291.2px;top:197.9px;width:12.3px;height:13.7px;background:#ff0000"></i>
<i class="h" style="left:527.8px;top:198.2px;width:12.3px;height:13.7px;background:#0000ff"></i><i class="p" style="left:528.5px;top:198.9px;width:10.8px;height:12.3px;background:#10c010"></i>
<i class="h" style="left:332.7px;top:198.4px;width:12.3px;height:13.7px;background:#ff0000"></i>
<i class="h" style="left:137.5px;top:198.5px;width:12.3px;height:13.7px;background:#ff0000"></i>
<i class="h" style="left:569.5px;top:198.7px;width:12.3px;height:13.7px;background:#0000ff"></i><i class="p" style="left:570.2px;top:199.3px;width:10.9px;height:12.3px;background:#10c010"></i>
<i class="h" style="left:374.2px;top:198.8px;width:12.3px;height:13.7px;background:#0000ff"></i><i class="p" style="left:374.9px;top:199.5px;width:10.9px;height:12.3px;background:#0a820a"></i>
<i class="h" style="left:178.9px;top:199.0px;width:12.3px;height:13.7px;background:#ff0000"></i>
<i class="h" style="left:415.8px;top:199.3px;width:12.4px;height:13.7px;background:#0000ff"></i><i class="p" style="left:416.5px;top:200.0px;width:10.9px;height:12.4px;background:#12d412"></i>
<i class="h" style="left:220.3px;top:199.5px;width:12.4px;height:13.7px;background:#0000ff"></i><i class="p" style="left:221.0px;top:200.1px;width:10.9px;height:12.4px;background:#0a820a"></i>
<i class="h" style="left:457.5px;top:199.7px;width:12.4px;height:13.7px;background:#0000ff"></i><i class="p" style="left:458.2px;top:200.4px;width:10.9px;height:12.4px;background:#0a820a"></i>
<i class="h" style="left:261.8px;top:199.9px;width:12.4px;height:13.7px;background:#0000ff"></i><i class="p" style="left:262.5px;top:200.6px;width:10.9px;height:12.4px;background:#0a820a"></i>
<i class="h" style="left:499.3px;top:200.2px;width:12.4px;height:13.7px;background:#0000ff"></i><i class="p" style="left:500.0px;top:200.9px;width:10.9px;height:12.4px;background:#10c010"></i>
<i class="h" style="left:303.3px;top:200.4px;width:12.4px;height:13.7px;background:#8c0000"></i>
<i class="h" style="left:345.0px;top:200.8px;width:12.4px;height:13.8px;background:#ff0000"></i>
<i class="h" style="left:148.8px;top:201.0px;width:12.4px;height:13.8px;background:#0000ff"></i><i class="p" style="left:149.5px;top:201.7px;width:10.9px;height:12.4px;background:#12d412"></i>
<i class="h" style="left:386.8px;top:201.3px;width:12.4px;height:13.8px;background:#0000ff"></i><i class="p" style="left:387.5px;top:202.0px;width:10.9px;height:12.4px;background:#0a820a"></i>
<i class="h" style="left:190.3px;top:201.5px;width:12.4px;height:13.8px;background:#ff0000"></i>
<i class="h" style="left:428.6px;top:201.8px;width:12.4px;height:13.8px;background:#0000ff"></i><i class="p" style="left:429.4px;top:202.4px;width:10.9px;height:12.4px;background:#0a820a"></i>
<i class="h" style="left:232.0px;top:201.9px;width:12.4px;height:13.8px;background:#ff0000"></i>
<i class="h" style="left:470.6px;top:202.2px;width:12.4px;height:13.8px;background:#0000ff"></i><i class="p" style="left:471.3px;top:202.9px;width:10.9px;height:12.4px;background:#0a820a"></i>
<i class="h" style="left:273.7px;top:202.4px;width:12.4px;height:13.8px;background:#ff0000"></i>
<i class="h" style="left:315.6px;top:202.8px;width:12.5px;height:13.8px;background:#0000ff"></i><i class="p" style="left:316.3px;top:203.5px;width:11.0px;height:12.5px;background:#0a820a"></i>
<i class="h" style="left:118.5px;top:203.0px;width:12.5px;height:13.8px;background:#ff0000"></i>
<i class="h" style="left:554.7px;top:203.1px;width:12.5px;height:13.8px;background:#0000ff"></i><i class="p" style="left:555.5px;top:203.8px;width:11.0px;height:12.5px;background:#10c010"></i>
<i class="h" style="left:357.5px;top:203.3px;width:12.5px;height:13.8px;background:#0000ff"></i><i class="p" style="left:358.2px;top:204.0px;width:11.0px;height:12.5px;background:#0a820a"></i>
<i class="h" style="left:160.2px;top:203.5px;width:12.5px;height:13.8px;background:#ff0000"></i>
<i class="h" style="left:399.5px;top:203.8px;width:12.5px;height:13.9px;background:#ff0000"></i>
<i class="h" style="left:202.0px;top:203.9px;width:12.5px;height:13.9px;background:#ff0000"></i>
<i class="h" style="left:441.6px;top:204.2px;width:12.5px;height:13.9px;background:#0000ff"></i><i class="p" style="left:442.3px;top:204.9px;width:11.0px;height:12.5px;background:#12d412"></i>
<i class="h" style="left:243.9px;top:204.4px;width:12.5px;height:13.9px;background:#ff0000"></i>
<i class="y" style="left:479.5px;top:193.4px;width:23.5px;height:22.5px"></i><i class="c" style="left:486.9px;top:205.8px;width:8.8px;height:8.8px"></i>
<i class="h" style="left:285.8px;top:204.9px;width:12.5px;height:13.9px;background:#ff0000"></i>
<i class="h" style="left:526.1px;top:205.2px;width:12.5px;height:13.9px;background:#ff0000"></i>
<i class="h" style="left:327.9px;top:205.4px;width:12.5px;height:13.9px;background:#ff0000"></i>
<i class="h" style="left:129.7px;top:205.5px;width:12.5px;height:13.9px;background:#0000ff"></i><i class="p" style="left:130.5px;top:206.2px;width:11.0px;height:12.5px;background:#12d412"></i>
<i class="h" style="left:568.5px;top:205.7px;width:12.5px;height:13.9px;background:#0000ff"></i><i class="p" style="left:569.2px;top:206.3px;width:11.0px;height:12.5px;background:#10c010"></i>
<i class="h" style="left:370.1px;top:205.8px;width:12.5px;height:13.9px;background:#ff0000"></i>
<i class="h" style="left:171.7px;top:206.0px;width:12.5px;height:13.9px;background:#ff0000"></i>
<i class="h" style="left:412.3px;top:206.3px;width:12.6px;height:13.9px;background:#8c0000"></i>
<i class="h" style="left:213.7px;top:206.5px;width:12.6px;height:13.9px;background:#ff0000"></i>
<i class="h" style="left:454.7px;top:206.8px;width:12.6px;height:13.9px;background:#0000ff"></i><i class="p" style="left:455.5px;top:207.5px;width:11.1px;height:12.6px;background:#0a820a"></i>
<i class="h" style="left:255.9px;top:206.9px;width:12.6px;height:14.0px;background:#ff0000"></i>
<i class="h" style="left:497.2px;top:207.2px;width:12.6px;height:14.0px;background:#ff0000"></i>
<i class="h" style="left:298.1px;top:207.4px;width:12.6px;height:14.0px;background:#ff0000"></i>
<i class="y" style="left:535.7px;top:196.3px;width:23.7px;height:22.7px"></i><i class="c" style="left:543.2px;top:208.8px;width:8.8px;height:8.8px"></i>
<i class="h" style="left:340.4px;top:207.9px;width:12.6px;height:14.0px;background:#0000ff"></i><i class="p" style="left:341.2px;top:208.6px;width:11.1px;height:12.6px;background:#12d412"></i>
<i class="h" style="left:141.1px;top:208.1px;width:12.6px;height:14.0px;background:#ff0000"></i>
<i class="h" style="left:382.8px;top:208.4px;width:12.6px;height:14.0px;background:#0000ff"></i><i class="p" style="left:383.6px;top:209.1px;width:11.1px;height:12.6px;background:#12d412"></i>
<i class="h" style="left:183.3px;top:208.5px;width:12.6px;height:14.0px;background:#ff0000"></i>
<i class="h" style="left:425.4px;top:208.8px;width:12.6px;height:14.0px;background:#0000ff"></i><i class="p" style="left:426.1px;top:209.5px;width:11.1px;height:12.6px;background:#12d412"></i>
<i class="h" style="left:225.6px;top:209.0px;width:12.6px;height:14.0px;background:#0000ff"></i><i class="p" style="left:226.3px;top:209.7px;width:11.1px;height:12.6px;background:#0a820a"></i>
<i class="h" style="left:468.0px;top:209.3px;width:12.6px;height:14.0px;background:#0000ff"></i><i class="p" style="left:468.7px;top:210.0px;width:11.1px;height:12.6px;background:#0a820a"></i>
<i class="h" style="left:268.0px;top:209.5px;width:12.6px;height:14.0px;background:#0000ff"></i><i class="p" style="left:268.7px;top:210.2px;width:11.1px;height:12.6px;background:#0a820a"></i>
<i class="h" style="left:510.7px;top:209.8px;width:12.7px;height:14.0px;background:#0000ff"></i>
<i class="h" style="left:310.5px;top:210.0px;width:12.7px;height:14.0px;background:#0000ff"></i><i class="p" style="left:311.2px;top:210.7px;width:11.1px;height:12.7px;background:#0a820a"></i>
<i class="h" style="left:110.2px;top:210.1px;width:12.7px;height:14.0px;background:#ff0000"></i>
<i class="h" style="left:553.5px;top:210.3px;width:12.7px;height:14.1px;background:#0000ff"></i><i class="p" style="left:554.2px;top:211.0px;width:11.1px;height:12.7px;background:#10c010"></i>
<i class="h" style="left:353.1px;top:210.5px;width:12.7px;height:14.1px;background:#0000ff"></i><i class="p" style="left:353.8px;top:211.2px;width:11.1px;height:12.7px;background:#0a820a"></i>
<i class="h" style="left:152.6px;top:210.6px;width:12.7px;height:14.1px;background:#0000ff"></i><i class="p" style="left:153.4px;top:211.3px;width:11.1px;height:12.7px;background:#0a820a"></i>
<i class="h" style="left:395.7px;top:210.9px;width:12.7px;height:14.1px;background:#ff0000"></i>
<i class="h" style="left:195.1px;top:211.1px;width:12.7px;height:14.1px;background:#ff0000"></i>
<i class="h" style="left:438.5px;top:211.4px;width:12.7px;height:14.1px;background:#8c0000"></i>
<i class="h" style="left:237.6px;top:211.6px;width:12.7px;height:14.1px;background:#0000ff"></i><i class="p" style="left:238.4px;top:212.3px;width:11.2px;height:12.7px;background:#12d412"></i>
<i class="h" style="left:481.4px;top:211.9px;width:12.7px;height:14.1px;background:#ff0000"></i>
<i class="h" style="left:280.3px;top:212.1px;width:12.7px;height:14.1px;background:#0000ff"></i><i class="p" style="left:281.0px;top:212.8px;width:11.2px;height:12.7px;background:#0a820a"></i>
<i class="h" style="left:524.4px;top:212.4px;width:12.7px;height:14.1px;background:#ff0000"></i>
<i class="h" style="left:323.0px;top:212.6px;width:12.7px;height:14.1px;background:#0000ff"></i><i class="p" style="left:323.8px;top:213.3px;width:11.2px;height:12.7px;background:#12d412"></i>
<i class="h" style="left:121.6px;top:212.7px;width:12.7px;height:14.1px;background:#0000ff"></i>
<i class="h" style="left:567.4px;top:212.9px;width:12.7px;height:14.1px;background:#8c0000"></i>
<i class="h" style="left:365.8px;top:213.1px;width:12.7px;height:14.1px;background:#0000ff"></i><i class="p" style="left:366.6px;top:213.8px;width:11.2px;height:12.7px;background:#0a820a"></i>
<i class="h" style="left:164.2px;top:213.2px;width:12.7px;height:14.1px;background:#ff0000"></i>
<i class="h" style="left:408.8px;top:213.5px;width:12.8px;height:14.2px;background:#ff0000"></i>
<i class="h" style="left:206.9px;top:213.7px;width:12.8px;height:14.2px;background:#ff0000"></i>
<i class="h" style="left:451.8px;top:214.0px;width:12.8px;height:14.2px;background:#ff0000"></i>
<i class="h" style="left:249.8px;top:214.2px;width:12.8px;height:14.2px;background:#ff0000"></i>
<i class="h" style="left:495.0px;top:214.5px;width:12.8px;height:14.2px;background:#0000ff"></i><i class="p" style="left:495.7px;top:215.2px;width:11.2px;height:12.8px;background:#0a820a"></i>
<i class="h" style="left:538.2px;top:215.0px;width:12.8px;height:14.2px;background:#0000ff"></i><i class="p" style="left:539.0px;top:215.7px;width:11.3px;height:12.8px;background:#0a820a"></i>
<i class="h" style="left:335.7px;top:215.2px;width:12.8px;height:14.2px;background:#ff0000"></i>
<i class="h" style="left:133.1px;top:215.4px;width:12.8px;height:14.2px;background:#ff0000"></i>
<i class="h" style="left:378.8px;top:215.7px;width:12.8px;height:14.2px;background:#ff0000"></i>
<i class="h" style="left:176.0px;top:215.8px;width:12.8px;height:14.2px;background:#0000ff"></i>
<i class="h" style="left:219.0px;top:216.3px;width:12.8px;height:14.2px;background:#ff0000"></i>
<i class="h" style="left:262.1px;top:216.8px;width:12.8px;height:14.3px;background:#0000ff"></i>
<i class="h" style="left:508.7px;top:217.2px;width:12.9px;height:14.3px;background:#0000ff"></i><i class="p" style="left:509.5px;top:217.9px;width:11.3px;height:12.9px;background:#0a820a"></i>
<i class="h" style="left:305.2px;top:217.3px;width:12.9px;height:14.3px;background:#0000ff"></i><i class="p" style="left:306.0px;top:218.0px;width:11.3px;height:12.9px;background:#0a820a"></i>
<i class="h" style="left:101.7px;top:217.5px;width:12.9px;height:14.3px;background:#ff0000"></i>
<i class="h" style="left:552.2px;top:217.7px;width:12.9px;height:14.3px;background:#ff0000"></i>
<i class="h" style="left:348.5px;top:217.8px;width:12.9px;height:14.3px;background:#ff0000"></i>
<i class="h" style="left:144.8px;top:218.0px;width:12.9px;height:14.3px;background:#0000ff"></i><i class="p" style="left:145.5px;top:218.7px;width:11.3px;height:12.9px;background:#12d412"></i>
<i class="h" style="left:391.9px;top:218.3px;width:12.9px;height:14.3px;background:#0000ff"></i><i class="p" style="left:392.6px;top:219.0px;width:11.3px;height:12.9px;background:#0a820a"></i>
<i class="h" style="left:187.9px;top:218.5px;width:12.9px;height:14.3px;background:#0000ff"></i><i class="p" style="left:188.7px;top:219.2px;width:11.3px;height:12.9px;background:#12d412"></i>
<i class="h" style="left:435.3px;top:218.8px;width:12.9px;height:14.3px;background:#ff0000"></i>
<i class="h" style="left:231.2px;top:219.0px;width:12.9px;height:14.3px;background:#0000ff"></i><i class="p" style="left:231.9px;top:219.7px;width:11.4px;height:12.9px;background:#0a820a"></i>
<i class="h" style="left:522.6px;top:219.8px;width:12.9px;height:14.4px;background:#ff0000"></i>
<i class="h" style="left:317.9px;top:220.0px;width:12.9px;height:14.4px;background:#0000ff"></i>
<i class="h" style="left:113.3px;top:220.2px;width:12.9px;height:14.4px;background:#ff0000"></i>
<i class="h" style="left:566.3px;top:220.3px;width:12.9px;height:14.4px;background:#ff0000"></i>
<i class="h" style="left:361.5px;top:220.5px;width:12.9px;height:14.4px;background:#ff0000"></i>
<i class="h" style="left:156.6px;top:220.7px;width:12.9px;height:14.4px;background:#ff0000"></i>
<i class="h" style="left:405.1px;top:221.0px;width:13.0px;height:14.4px;background:#ff0000"></i>
<i class="h" style="left:200.0px;top:221.2px;width:13.0px;height:14.4px;background:#0000ff"></i><i class="p" style="left:200.7px;top:221.9px;width:11.4px;height:13.0px;background:#12d412"></i>
<i class="h" style="left:448.8px;top:221.5px;width:13.0px;height:14.4px;background:#ff0000"></i>
<i class="h" style="left:243.5px;top:221.7px;width:13.0px;height:14.4px;background:#0000ff"></i><i class="p" style="left:244.3px;top:222.4px;width:11.4px;height:13.0px;background:#0a820a"></i>
<i class="h" style="left:492.7px;top:222.0px;width:13.0px;height:14.4px;background:#0000ff"></i><i class="p" style="left:493.5px;top:222.7px;width:11.4px;height:13.0px;background:#0a820a"></i>
<i class="h" style="left:536.6px;top:222.5px;width:13.0px;height:14.4px;background:#0000ff"></i><i class="p" style="left:537.4px;top:223.2px;width:11.4px;height:13.0px;background:#0a820a"></i>
<i class="h" style="left:330.8px;top:222.7px;width:13.0px;height:14.4px;background:#ff0000"></i>
<i class="h" style="left:124.9px;top:222.9px;width:13.0px;height:14.4px;background:#0000ff"></i><i class="p" style="left:125.7px;top:223.6px;width:11.4px;height:13.0px;background:#12d412"></i>
<i class="h" style="left:374.6px;top:223.2px;width:13.0px;height:14.5px;background:#ff0000"></i>
<i class="h" style="left:418.5px;top:223.7px;width:13.0px;height:14.5px;background:#0000ff"></i><i class="p" style="left:419.3px;top:224.4px;width:11.5px;height:13.0px;background:#12d412"></i>
<i class="h" style="left:212.2px;top:223.9px;width:13.0px;height:14.5px;background:#ff0000"></i>
<i class="h" style="left:255.9px;top:224.4px;width:13.1px;height:14.5px;background:#0000ff"></i><i class="p" style="left:256.7px;top:225.1px;width:11.5px;height:13.1px;background:#0a820a"></i>
<i class="h" style="left:506.6px;top:224.8px;width:13.1px;height:14.5px;background:#0000ff"></i><i class="p" style="left:507.4px;top:225.5px;width:11.5px;height:13.1px;background:#12d412"></i>
<i class="h" style="left:299.8px;top:224.9px;width:13.1px;height:14.5px;background:#0000ff"></i><i class="p" style="left:300.6px;top:225.7px;width:11.5px;height:13.1px;background:#0a820a"></i>
<i class="h" style="left:93.0px;top:225.1px;width:13.1px;height:14.5px;background:#0000ff"></i><i class="p" style="left:93.7px;top:225.8px;width:11.5px;height:13.1px;background:#12d412"></i>
<i class="h" style="left:343.8px;top:225.4px;width:13.1px;height:14.5px;background:#ff0000"></i>
<i class="h" style="left:136.7px;top:225.6px;width:13.1px;height:14.5px;background:#ff0000"></i>
<i class="h" style="left:387.9px;top:226.0px;width:13.1px;height:14.5px;background:#ff0000"></i>
<i class="h" style="left:180.5px;top:226.1px;width:13.1px;height:14.5px;background:#0000ff"></i><i class="p" style="left:181.3px;top:226.9px;width:11.5px;height:13.1px;background:#12d412"></i>
<i class="h" style="left:432.1px;top:226.5px;width:13.1px;height:14.6px;background:#ff0000"></i>
<i class="h" style="left:224.5px;top:226.7px;width:13.1px;height:14.6px;background:#0000ff"></i><i class="p" style="left:225.3px;top:227.4px;width:11.5px;height:13.1px;background:#12d412"></i>
<i class="y" style="left:471.7px;top:215.1px;width:24.7px;height:23.6px"></i><i class="c" style="left:479.5px;top:228.1px;width:9.2px;height:9.2px"></i>
<i class="h" style="left:268.5px;top:227.2px;width:13.1px;height:14.6px;background:#ff0000"></i>
<i class="h" style="left:520.7px;top:227.5px;width:13.1px;height:14.6px;background:#ff0000"></i>
<i class="h" style="left:312.7px;top:227.7px;width:13.1px;height:14.6px;background:#ff0000"></i>
<i class="h" style="left:104.6px;top:227.9px;width:13.1px;height:14.6px;background:#ff0000"></i>
<i class="h" style="left:565.2px;top:228.0px;width:13.2px;height:14.6px;background:#ff0000"></i>
<i class="h" style="left:357.0px;top:228.2px;width:13.2px;height:14.6px;background:#8c0000"></i>
<i class="h" style="left:401.3px;top:228.7px;width:13.2px;height:14.6px;background:#8c0000"></i>
<i class="h" style="left:192.8px;top:228.9px;width:13.2px;height:14.6px;background:#ff0000"></i>
<i class="h" style="left:445.8px;top:229.3px;width:13.2px;height:14.6px;background:#0000ff"></i><i class="p" style="left:446.6px;top:230.0px;width:11.6px;height:13.2px;background:#0a820a"></i>
<i class="h" style="left:237.0px;top:229.4px;width:13.2px;height:14.6px;background:#0000ff"></i><i class="p" style="left:237.8px;top:230.2px;width:11.6px;height:13.2px;background:#0a820a"></i>
<i class="h" style="left:490.3px;top:229.8px;width:13.2px;height:14.7px;background:#ff0000"></i>
<i class="y" style="left:275.3px;top:218.0px;width:24.8px;height:23.8px"></i><i class="c" style="left:283.1px;top:231.1px;width:9.2px;height:9.2px"></i>
<i class="h" style="left:325.7px;top:230.5px;width:13.2px;height:14.7px;background:#ff0000"></i>
<i class="h" style="left:116.4px;top:230.7px;width:13.2px;height:14.7px;background:#0000ff"></i><i class="p" style="left:117.2px;top:231.4px;width:11.6px;height:13.2px;background:#12d412"></i>
<i class="h" style="left:370.3px;top:231.0px;width:13.2px;height:14.7px;background:#0000ff"></i><i class="p" style="left:371.1px;top:231.7px;width:11.7px;height:13.2px;background:#12d412"></i>
<i class="h" style="left:414.9px;top:231.5px;width:13.3px;height:14.7px;background:#ff0000"></i>
<i class="y" style="left:454.8px;top:220.1px;width:25.0px;height:23.9px"></i><i class="c" style="left:462.7px;top:233.2px;width:9.3px;height:9.3px"></i>
<i class="h" style="left:249.6px;top:232.3px;width:13.3px;height:14.7px;background:#0000ff"></i><i class="p" style="left:250.4px;top:233.0px;width:11.7px;height:13.3px;background:#12d412"></i>
<i class="h" style="left:504.5px;top:232.6px;width:13.3px;height:14.8px;background:#ff0000"></i>
<i class="h" style="left:294.2px;top:232.8px;width:13.3px;height:14.8px;background:#ff0000"></i>
<i class="h" style="left:83.9px;top:233.0px;width:13.3px;height:14.8px;background:#ff0000"></i>
<i class="h" style="left:549.4px;top:233.1px;width:13.3px;height:14.8px;background:#ff0000"></i>
<i class="h" style="left:338.9px;top:233.3px;width:13.3px;height:14.8px;background:#ff0000"></i>
<i class="h" style="left:128.4px;top:233.5px;width:13.3px;height:14.8px;background:#0000ff"></i><i class="p" style="left:129.2px;top:234.2px;width:11.7px;height:13.3px;background:#12d412"></i>
<i class="h" style="left:383.7px;top:233.9px;width:13.3px;height:14.8px;background:#0000ff"></i><i class="p" style="left:384.5px;top:234.6px;width:11.7px;height:13.3px;background:#12d412"></i>
<i class="h" style="left:172.9px;top:234.0px;width:13.3px;height:14.8px;background:#ff0000"></i>
<i class="h" style="left:428.7px;top:234.4px;width:13.3px;height:14.8px;background:#8c0000"></i>
<i class="h" style="left:262.4px;top:235.1px;width:13.4px;height:14.8px;background:#ff0000"></i>
<i class="h" style="left:518.8px;top:235.5px;width:13.4px;height:14.8px;background:#0000ff"></i><i class="p" style="left:519.6px;top:236.2px;width:11.8px;height:13.4px;background:#0a820a"></i>
<i class="h" style="left:95.7px;top:235.8px;width:13.4px;height:14.8px;background:#0000ff"></i><i class="p" style="left:96.5px;top:236.6px;width:11.8px;height:13.4px;background:#12d412"></i>
<i class="h" style="left:564.1px;top:236.0px;width:13.4px;height:14.9px;background:#0000ff"></i><i class="p" style="left:564.9px;top:236.7px;width:11.8px;height:13.4px;background:#0a820a"></i>
<i class="h" style="left:352.3px;top:236.2px;width:13.4px;height:14.9px;background:#ff0000"></i>
<i class="h" style="left:397.4px;top:236.7px;width:13.4px;height:14.9px;background:#ff0000"></i>
<i class="h" style="left:185.3px;top:236.9px;width:13.4px;height:14.9px;background:#0000ff"></i>
<i class="h" style="left:442.6px;top:237.3px;width:13.4px;height:14.9px;background:#ff0000"></i>
<i class="h" style="left:230.3px;top:237.4px;width:13.4px;height:14.9px;background:#ff0000"></i>
<i class="h" style="left:275.3px;top:238.0px;width:13.4px;height:14.9px;background:#ff0000"></i>
<i class="h" style="left:533.3px;top:238.3px;width:13.4px;height:14.9px;background:#0000ff"></i><i class="p" style="left:534.1px;top:239.1px;width:11.8px;height:13.4px;background:#0a820a"></i>
<i class="h" style="left:320.5px;top:238.5px;width:13.5px;height:14.9px;background:#0000ff"></i><i class="p" style="left:321.3px;top:239.3px;width:11.8px;height:13.5px;background:#0a820a"></i>
<i class="h" style="left:107.6px;top:238.7px;width:13.5px;height:14.9px;background:#ff0000"></i>
<i class="h" style="left:365.8px;top:239.1px;width:13.5px;height:14.9px;background:#ff0000"></i>
<i class="y" style="left:145.7px;top:227.1px;width:25.3px;height:24.2px"></i><i class="c" style="left:153.7px;top:240.4px;width:9.4px;height:9.4px"></i>
<i class="h" style="left:411.2px;top:239.6px;width:13.5px;height:15.0px;background:#ff0000"></i>
<i class="h" style="left:456.7px;top:240.2px;width:13.5px;height:15.0px;background:#0000ff"></i><i class="p" style="left:457.5px;top:240.9px;width:11.9px;height:13.5px;background:#0a820a"></i>
<i class="h" style="left:502.3px;top:240.7px;width:13.5px;height:15.0px;background:#ff0000"></i>
<i class="h" style="left:288.4px;top:240.9px;width:13.5px;height:15.0px;background:#0000ff"></i><i class="p" style="left:289.2px;top:241.7px;width:11.9px;height:13.5px;background:#0a820a"></i>
<i class="h" style="left:74.5px;top:241.1px;width:13.5px;height:15.0px;background:#0000ff"></i>
<i class="h" style="left:548.0px;top:241.3px;width:13.5px;height:15.0px;background:#ff0000"></i>
<i class="h" style="left:333.9px;top:241.5px;width:13.5px;height:15.0px;background:#0000ff"></i><i class="p" style="left:334.7px;top:242.2px;width:11.9px;height:13.5px;background:#0a820a"></i>
<i class="h" style="left:119.7px;top:241.6px;width:13.5px;height:15.0px;background:#ff0000"></i>
<i class="h" style="left:379.5px;top:242.0px;width:13.5px;height:15.0px;background:#ff0000"></i>
<i class="h" style="left:425.2px;top:242.6px;width:13.6px;height:15.1px;background:#ff0000"></i>
<i class="y" style="left:203.9px;top:230.5px;width:25.5px;height:24.4px"></i><i class="c" style="left:211.9px;top:243.9px;width:9.5px;height:9.5px"></i>
<i class="h" style="left:470.9px;top:243.1px;width:13.6px;height:15.1px;background:#0000ff"></i><i class="p" style="left:471.8px;top:243.9px;width:12.0px;height:13.6px;background:#0a820a"></i>
<i class="h" style="left:256.0px;top:243.3px;width:13.6px;height:15.1px;background:#0000ff"></i><i class="p" style="left:256.8px;top:244.1px;width:12.0px;height:13.6px;background:#12d412"></i>
<i class="h" style="left:516.9px;top:243.7px;width:13.6px;height:15.1px;background:#ff0000"></i>
<i class="h" style="left:301.7px;top:243.9px;width:13.6px;height:15.1px;background:#0000ff"></i><i class="p" style="left:302.5px;top:244.6px;width:12.0px;height:13.6px;background:#0a820a"></i>
<i class="h" style="left:86.5px;top:244.1px;width:13.6px;height:15.1px;background:#0000ff"></i><i class="p" style="left:87.3px;top:244.8px;width:12.0px;height:13.6px;background:#12d412"></i>
<i class="h" style="left:562.9px;top:244.2px;width:13.6px;height:15.1px;background:#0000ff"></i><i class="p" style="left:563.7px;top:245.0px;width:12.0px;height:13.6px;background:#12d412"></i>
<i class="h" style="left:347.4px;top:244.4px;width:13.6px;height:15.1px;background:#ff0000"></i>
<i class="h" style="left:132.0px;top:244.6px;width:13.6px;height:15.1px;background:#ff0000"></i>
<i class="h" style="left:393.3px;top:245.0px;width:13.6px;height:15.1px;background:#ff0000"></i>
<i class="h" style="left:177.6px;top:245.2px;width:13.6px;height:15.1px;background:#0000ff"></i><i class="p" style="left:178.4px;top:245.9px;width:12.0px;height:13.6px;background:#12d412"></i>
<i class="h" style="left:439.3px;top:245.5px;width:13.6px;height:15.2px;background:#ff0000"></i>
<i class="h" style="left:223.3px;top:245.7px;width:13.7px;height:15.2px;background:#ff0000"></i>
<i class="h" style="left:485.4px;top:246.1px;width:13.7px;height:15.2px;background:#0000ff"></i><i class="p" style="left:486.2px;top:246.9px;width:12.0px;height:13.7px;background:#0a820a"></i>
<i class="h" style="left:269.1px;top:246.3px;width:13.7px;height:15.2px;background:#ff0000"></i>
<i class="h" style="left:531.6px;top:246.7px;width:13.7px;height:15.2px;background:#8c0000"></i>
<i class="h" style="left:315.1px;top:246.9px;width:13.7px;height:15.2px;background:#ff0000"></i>
<i class="h" style="left:98.5px;top:247.0px;width:13.7px;height:15.2px;background:#ff0000"></i>
<i class="h" style="left:361.2px;top:247.4px;width:13.7px;height:15.2px;background:#0000ff"></i><i class="p" style="left:362.0px;top:248.2px;width:12.1px;height:13.7px;background:#12d412"></i>
<i class="h" style="left:144.4px;top:247.6px;width:13.7px;height:15.2px;background:#0000ff"></i><i class="p" style="left:145.2px;top:248.4px;width:12.1px;height:13.7px;background:#12d412"></i>
<i class="h" style="left:407.3px;top:248.0px;width:13.7px;height:15.2px;background:#0000ff"></i><i class="p" style="left:408.2px;top:248.7px;width:12.1px;height:13.7px;background:#0a820a"></i>
<i class="h" style="left:190.3px;top:248.2px;width:13.7px;height:15.2px;background:#ff0000"></i>
<i class="h" style="left:453.6px;top:248.6px;width:13.7px;height:15.2px;background:#0000ff"></i><i class="p" style="left:454.4px;top:249.3px;width:12.1px;height:13.7px;background:#0a820a"></i>
<i class="h" style="left:236.3px;top:248.7px;width:13.7px;height:15.2px;background:#0000ff"></i><i class="p" style="left:237.1px;top:249.5px;width:12.1px;height:13.7px;background:#0a820a"></i>
<i class="h" style="left:500.0px;top:249.1px;width:13.8px;height:15.3px;background:#ff0000"></i>
<i class="h" style="left:282.4px;top:249.3px;width:13.8px;height:15.3px;background:#ff0000"></i>
<i class="h" style="left:64.8px;top:249.5px;width:13.8px;height:15.3px;background:#0000ff"></i><i class="p" style="left:65.6px;top:250.3px;width:12.1px;height:13.8px;background:#12d412"></i>
<i class="h" style="left:546.5px;top:249.7px;width:13.8px;height:15.3px;background:#ff0000"></i>
<i class="h" style="left:328.7px;top:249.9px;width:13.8px;height:15.3px;background:#8c0000"></i>
<i class="h" style="left:110.8px;top:250.1px;width:13.8px;height:15.3px;background:#ff0000"></i>
<i class="h" style="left:375.0px;top:250.5px;width:13.8px;height:15.3px;background:#ff0000"></i>
<i class="h" style="left:156.9px;top:250.6px;width:13.8px;height:15.3px;background:#0000ff"></i>
<i class="h" style="left:421.5px;top:251.0px;width:13.8px;height:15.3px;background:#0000ff"></i><i class="p" style="left:422.4px;top:251.8px;width:12.1px;height:13.8px;background:#0a820a"></i>
<i class="h" style="left:203.1px;top:251.2px;width:13.8px;height:15.3px;background:#ff0000"></i>
<i class="h" style="left:468.1px;top:251.6px;width:13.8px;height:15.3px;background:#0000ff"></i><i class="p" style="left:468.9px;top:252.4px;width:12.2px;height:13.8px;background:#0a820a"></i>
<i class="h" style="left:249.4px;top:251.8px;width:13.8px;height:15.3px;background:#ff0000"></i>
<i class="h" style="left:514.8px;top:252.2px;width:13.8px;height:15.4px;background:#ff0000"></i>
<i class="h" style="left:295.9px;top:252.4px;width:13.8px;height:15.4px;background:#ff0000"></i>
<i class="h" style="left:76.9px;top:252.6px;width:13.8px;height:15.4px;background:#0000ff"></i><i class="p" style="left:77.7px;top:253.3px;width:12.2px;height:13.8px;background:#12d412"></i>
<i class="h" style="left:561.6px;top:252.8px;width:13.9px;height:15.4px;background:#ff0000"></i>
<i class="h" style="left:342.4px;top:253.0px;width:13.9px;height:15.4px;background:#ff0000"></i>
<i class="h" style="left:123.2px;top:253.1px;width:13.9px;height:15.4px;background:#ff0000"></i>
<i class="h" style="left:389.1px;top:253.5px;width:13.9px;height:15.4px;background:#ff0000"></i>
<i class="h" style="left:169.6px;top:253.7px;width:13.9px;height:15.4px;background:#ff0000"></i>
<i class="h" style="left:435.9px;top:254.1px;width:13.9px;height:15.4px;background:#0000ff"></i><i class="p" style="left:436.7px;top:254.9px;width:12.2px;height:13.9px;background:#0a820a"></i>
<i class="h" style="left:216.1px;top:254.3px;width:13.9px;height:15.4px;background:#0000ff"></i><i class="p" style="left:216.9px;top:255.1px;width:12.2px;height:13.9px;background:#12d412"></i>
<i class="h" style="left:482.8px;top:254.7px;width:13.9px;height:15.4px;background:#0000ff"></i><i class="p" style="left:483.6px;top:255.5px;width:12.2px;height:13.9px;background:#0a820a"></i>
<i class="h" style="left:262.8px;top:254.9px;width:13.9px;height:15.4px;background:#ff0000"></i>
<i class="h" style="left:529.8px;top:255.3px;width:13.9px;height:15.5px;background:#ff0000"></i>
<i class="h" style="left:309.5px;top:255.5px;width:13.9px;height:15.5px;background:#0000ff"></i><i class="p" style="left:310.3px;top:256.2px;width:12.3px;height:13.9px;background:#12d412"></i>
<i class="h" style="left:89.1px;top:255.7px;width:13.9px;height:15.5px;background:#ff0000"></i>
<i class="h" style="left:356.4px;top:256.1px;width:13.9px;height:15.5px;background:#ff0000"></i>
<i class="h" style="left:135.7px;top:256.3px;width:13.9px;height:15.5px;background:#0000ff"></i><i class="p" style="left:136.6px;top:257.0px;width:12.3px;height:13.9px;background:#12d412"></i>
<i class="h" style="left:403.3px;top:256.6px;width:14.0px;height:15.5px;background:#0000ff"></i><i class="p" style="left:404.2px;top:257.4px;width:12.3px;height:14.0px;background:#0a820a"></i>
<i class="h" style="left:182.5px;top:256.8px;width:14.0px;height:15.5px;background:#ff0000"></i>
<i class="h" style="left:229.3px;top:257.4px;width:14.0px;height:15.5px;background:#ff0000"></i>
<i class="h" style="left:497.7px;top:257.8px;width:14.0px;height:15.5px;background:#ff0000"></i>
<i class="h" style="left:276.2px;top:258.0px;width:14.0px;height:15.5px;background:#ff0000"></i>
<i class="h" style="left:54.7px;top:258.2px;width:14.0px;height:15.5px;background:#ff0000"></i>
<i class="h" style="left:545.0px;top:258.4px;width:14.0px;height:15.6px;background:#0000ff"></i><i class="p" style="left:545.8px;top:259.2px;width:12.3px;height:14.0px;background:#0a820a"></i>
<i class="h" style="left:323.3px;top:258.6px;width:14.0px;height:15.6px;background:#ff0000"></i>
<i class="h" style="left:101.5px;top:258.8px;width:14.0px;height:15.6px;background:#ff0000"></i>
<i class="h" style="left:370.5px;top:259.2px;width:14.0px;height:15.6px;background:#0000ff"></i><i class="p" style="left:371.3px;top:260.0px;width:12.3px;height:14.0px;background:#0a820a"></i>
<i class="h" style="left:148.5px;top:259.4px;width:14.0px;height:15.6px;background:#0000ff"></i><i class="p" style="left:149.3px;top:260.2px;width:12.3px;height:14.0px;background:#0a820a"></i>
<i class="h" style="left:417.8px;top:259.8px;width:14.0px;height:15.6px;background:#0000ff"></i><i class="p" style="left:418.6px;top:260.6px;width:12.4px;height:14.0px;background:#0a820a"></i>
<i class="h" style="left:195.5px;top:260.0px;width:14.0px;height:15.6px;background:#0000ff"></i><i class="p" style="left:196.3px;top:260.8px;width:12.4px;height:14.0px;background:#12d412"></i>
<i class="h" style="left:465.2px;top:260.4px;width:14.1px;height:15.6px;background:#ff0000"></i>
<i class="h" style="left:242.6px;top:260.6px;width:14.1px;height:15.6px;background:#ff0000"></i>
<i class="h" style="left:512.7px;top:261.0px;width:14.1px;height:15.6px;background:#0000ff"></i><i class="p" style="left:513.6px;top:261.8px;width:12.4px;height:14.1px;background:#0a820a"></i>
<i class="h" style="left:289.9px;top:261.2px;width:14.1px;height:15.6px;background:#ff0000"></i>
<i class="h" style="left:67.0px;top:261.4px;width:14.1px;height:15.6px;background:#ff0000"></i>
<i class="h" style="left:337.3px;top:261.8px;width:14.1px;height:15.7px;background:#ff0000"></i>
<i class="h" style="left:114.1px;top:262.0px;width:14.1px;height:15.7px;background:#ff0000"></i>
<i class="h" style="left:161.3px;top:262.6px;width:14.1px;height:15.7px;background:#0000ff"></i><i class="p" style="left:162.2px;top:263.4px;width:12.4px;height:14.1px;background:#12d412"></i>
<i class="h" style="left:432.4px;top:263.0px;width:14.1px;height:15.7px;background:#0000ff"></i><i class="p" style="left:433.2px;top:263.8px;width:12.4px;height:14.1px;background:#0a820a"></i>
<i class="h" style="left:208.7px;top:263.2px;width:14.1px;height:15.7px;background:#ff0000"></i>
<i class="h" style="left:480.1px;top:263.6px;width:14.2px;height:15.7px;background:#0000ff"></i><i class="p" style="left:480.9px;top:264.4px;width:12.5px;height:14.2px;background:#0a820a"></i>
<i class="h" style="left:256.1px;top:263.8px;width:14.2px;height:15.7px;background:#0000ff"></i><i class="p" style="left:257.0px;top:264.6px;width:12.5px;height:14.2px;background:#12d412"></i>
<i class="h" style="left:303.7px;top:264.4px;width:14.2px;height:15.7px;background:#ff0000"></i>
<i class="h" style="left:79.4px;top:264.6px;width:14.2px;height:15.7px;background:#ff0000"></i>
<i class="h" style="left:351.4px;top:265.0px;width:14.2px;height:15.8px;background:#ff0000"></i>
<i class="h" style="left:126.8px;top:265.2px;width:14.2px;height:15.8px;background:#ff0000"></i>
<i class="h" style="left:399.2px;top:265.6px;width:14.2px;height:15.8px;background:#ff0000"></i>
<i class="h" style="left:174.4px;top:265.8px;width:14.2px;height:15.8px;background:#ff0000"></i>
<i class="y" style="left:441.9px;top:253.3px;width:26.7px;height:25.6px"></i><i class="c" style="left:450.2px;top:267.4px;width:10.0px;height:10.0px"></i>
<i class="h" style="left:222.0px;top:266.4px;width:14.2px;height:15.8px;background:#ff0000"></i>
<i class="h" style="left:495.2px;top:266.8px;width:14.2px;height:15.8px;background:#0000ff"></i><i class="p" style="left:496.1px;top:267.6px;width:12.5px;height:14.2px;background:#12d412"></i>
<i class="h" style="left:269.8px;top:267.0px;width:14.2px;height:15.8px;background:#ff0000"></i>
<i class="h" style="left:44.3px;top:267.2px;width:14.2px;height:15.8px;background:#ff0000"></i>
<i class="h" style="left:543.4px;top:267.4px;width:14.3px;height:15.8px;background:#0000ff"></i><i class="p" style="left:544.2px;top:268.2px;width:12.6px;height:14.3px;background:#0a820a"></i>
<i class="h" style="left:317.7px;top:267.6px;width:14.3px;height:15.8px;background:#0000ff"></i><i class="p" style="left:318.6px;top:268.4px;width:12.6px;height:14.3px;background:#12d412"></i>
<i class="h" style="left:92.0px;top:267.8px;width:14.3px;height:15.8px;background:#ff0000"></i>
<i class="h" style="left:365.7px;top:268.3px;width:14.3px;height:15.9px;background:#0000ff"></i><i class="p" style="left:366.6px;top:269.0px;width:12.6px;height:14.3px;background:#12d412"></i>
<i class="h" style="left:139.7px;top:268.5px;width:14.3px;height:15.9px;background:#ff0000"></i>
<i class="h" style="left:413.9px;top:268.9px;width:14.3px;height:15.9px;background:#0000ff"></i><i class="p" style="left:414.7px;top:269.7px;width:12.6px;height:14.3px;background:#0a820a"></i>
<i class="h" style="left:187.6px;top:269.1px;width:14.3px;height:15.9px;background:#0000ff"></i><i class="p" style="left:188.4px;top:269.9px;width:12.6px;height:14.3px;background:#12d412"></i>
<i class="h" style="left:462.1px;top:269.5px;width:14.3px;height:15.9px;background:#0000ff"></i><i class="p" style="left:463.0px;top:270.3px;width:12.6px;height:14.3px;background:#0a820a"></i>
<i class="h" style="left:235.6px;top:269.7px;width:14.3px;height:15.9px;background:#ff0000"></i>
<i class="h" style="left:510.5px;top:270.1px;width:14.3px;height:15.9px;background:#ff0000"></i>
<i class="h" style="left:283.7px;top:270.3px;width:14.3px;height:15.9px;background:#ff0000"></i>
<i class="h" style="left:56.7px;top:270.5px;width:14.3px;height:15.9px;background:#0000ff"></i><i class="p" style="left:57.6px;top:271.3px;width:12.6px;height:14.3px;background:#0a820a"></i>
<i class="h" style="left:559.0px;top:270.7px;width:14.4px;height:15.9px;background:#0000ff"></i><i class="p" style="left:559.9px;top:271.5px;width:12.6px;height:14.4px;background:#0a820a"></i>
<i class="h" style="left:331.9px;top:270.9px;width:14.4px;height:15.9px;background:#0000ff"></i><i class="p" style="left:332.7px;top:271.7px;width:12.6px;height:14.4px;background:#12d412"></i>
<i class="h" style="left:104.7px;top:271.1px;width:14.4px;height:15.9px;background:#0000ff"></i><i class="p" style="left:105.5px;top:271.9px;width:12.6px;height:14.4px;background:#12d412"></i>
<i class="h" style="left:380.2px;top:271.6px;width:14.4px;height:16.0px;background:#0000ff"></i><i class="p" style="left:381.1px;top:272.4px;width:12.6px;height:14.4px;background:#0a820a"></i>
<i class="h" style="left:152.8px;top:271.8px;width:14.4px;height:16.0px;background:#0000ff"></i><i class="p" style="left:153.6px;top:272.6px;width:12.7px;height:14.4px;background:#0a820a"></i>
<i class="h" style="left:428.7px;top:272.2px;width:14.4px;height:16.0px;background:#0000ff"></i><i class="p" style="left:429.6px;top:273.0px;width:12.7px;height:14.4px;background:#0a820a"></i>
<i class="h" style="left:200.9px;top:272.4px;width:14.4px;height:16.0px;background:#0000ff"></i><i class="p" style="left:201.8px;top:273.2px;width:12.7px;height:14.4px;background:#12d412"></i>
<i class="h" style="left:477.3px;top:272.8px;width:14.4px;height:16.0px;background:#0000ff"></i><i class="p" style="left:478.2px;top:273.6px;width:12.7px;height:14.4px;background:#12d412"></i>
<i class="h" style="left:249.3px;top:273.0px;width:14.4px;height:16.0px;background:#0000ff"></i><i class="p" style="left:250.1px;top:273.8px;width:12.7px;height:14.4px;background:#12d412"></i>
<i class="h" style="left:297.7px;top:273.6px;width:14.4px;height:16.0px;background:#ff0000"></i>
<i class="h" style="left:69.3px;top:273.8px;width:14.4px;height:16.0px;background:#ff0000"></i>
<i class="h" style="left:346.3px;top:274.3px;width:14.4px;height:16.0px;background:#8c0000"></i>
<i class="h" style="left:117.6px;top:274.5px;width:14.5px;height:16.0px;background:#ff0000"></i>
<i class="h" style="left:394.9px;top:274.9px;width:14.5px;height:16.1px;background:#ff0000"></i>
<i class="h" style="left:166.0px;top:275.1px;width:14.5px;height:16.1px;background:#0000ff"></i><i class="p" style="left:166.8px;top:275.9px;width:12.7px;height:14.5px;background:#12d412"></i>
<i class="h" style="left:443.7px;top:275.5px;width:14.5px;height:16.1px;background:#0000ff"></i><i class="p" style="left:444.6px;top:276.3px;width:12.7px;height:14.5px;background:#12d412"></i>
<i class="h" style="left:214.5px;top:275.7px;width:14.5px;height:16.1px;background:#ff0000"></i>
<i class="h" style="left:492.7px;top:276.2px;width:14.5px;height:16.1px;background:#0000ff"></i><i class="p" style="left:493.5px;top:277.0px;width:12.8px;height:14.5px;background:#0a820a"></i>
<i class="h" style="left:263.1px;top:276.4px;width:14.5px;height:16.1px;background:#0000ff"></i><i class="p" style="left:264.0px;top:277.2px;width:12.8px;height:14.5px;background:#12d412"></i>
<i class="h" style="left:33.5px;top:276.6px;width:14.5px;height:16.1px;background:#ff0000"></i>
<i class="h" style="left:541.7px;top:276.8px;width:14.5px;height:16.1px;background:#0000ff"></i><i class="p" style="left:542.6px;top:277.6px;width:12.8px;height:14.5px;background:#0a820a"></i>
<i class="h" style="left:311.9px;top:277.0px;width:14.5px;height:16.1px;background:#ff0000"></i>
<i class="h" style="left:82.0px;top:277.2px;width:14.5px;height:16.1px;background:#ff0000"></i>
<i class="h" style="left:360.8px;top:277.7px;width:14.5px;height:16.1px;background:#0000ff"></i><i class="p" style="left:361.7px;top:278.5px;width:12.8px;height:14.5px;background:#12d412"></i>
<i class="h" style="left:130.6px;top:277.9px;width:14.5px;height:16.1px;background:#0000ff"></i>
<i class="h" style="left:409.8px;top:278.3px;width:14.6px;height:16.2px;background:#0000ff"></i><i class="p" style="left:410.7px;top:279.1px;width:12.8px;height:14.6px;background:#12d412"></i>
<i class="h" style="left:179.4px;top:278.5px;width:14.6px;height:16.2px;background:#0000ff"></i><i class="p" style="left:180.2px;top:279.3px;width:12.8px;height:14.6px;background:#12d412"></i>
<i class="h" style="left:459.0px;top:278.9px;width:14.6px;height:16.2px;background:#0000ff"></i>
<i class="h" style="left:228.2px;top:279.1px;width:14.6px;height:16.2px;background:#0000ff"></i><i class="p" style="left:229.1px;top:279.9px;width:12.8px;height:14.6px;background:#12d412"></i>
<i class="h" style="left:277.2px;top:279.8px;width:14.6px;height:16.2px;background:#ff0000"></i>
<i class="h" style="left:46.1px;top:280.0px;width:14.6px;height:16.2px;background:#0000ff"></i><i class="p" style="left:47.0px;top:280.8px;width:12.9px;height:14.6px;background:#0a820a"></i>
<i class="h" style="left:557.7px;top:280.2px;width:14.6px;height:16.2px;background:#ff0000"></i>
<i class="h" style="left:326.3px;top:280.4px;width:14.6px;height:16.2px;background:#0000ff"></i>
<i class="h" style="left:94.9px;top:280.6px;width:14.6px;height:16.2px;background:#0000ff"></i><i class="p" style="left:95.8px;top:281.4px;width:12.9px;height:14.6px;background:#0a820a"></i>
<i class="h" style="left:375.6px;top:281.1px;width:14.6px;height:16.3px;background:#ff0000"></i>
<i class="h" style="left:143.9px;top:281.3px;width:14.6px;height:16.3px;background:#ff0000"></i>
<i class="h" style="left:424.9px;top:281.7px;width:14.7px;height:16.3px;background:#0000ff"></i><i class="p" style="left:425.8px;top:282.5px;width:12.9px;height:14.7px;background:#0a820a"></i>
<i class="h" style="left:192.9px;top:281.9px;width:14.7px;height:16.3px;background:#0000ff"></i><i class="p" style="left:193.8px;top:282.7px;width:12.9px;height:14.7px;background:#12d412"></i>
<i class="h" style="left:474.4px;top:282.4px;width:14.7px;height:16.3px;background:#ff0000"></i>
<i class="h" style="left:242.1px;top:282.6px;width:14.7px;height:16.3px;background:#ff0000"></i>
<i class="h" style="left:524.0px;top:283.0px;width:14.7px;height:16.3px;background:#ff0000"></i>
<i class="h" style="left:291.5px;top:283.2px;width:14.7px;height:16.3px;background:#ff0000"></i>
<i class="h" style="left:58.8px;top:283.4px;width:14.7px;height:16.3px;background:#ff0000"></i>
<i class="h" style="left:340.9px;top:283.9px;width:14.7px;height:16.3px;background:#0000ff"></i><i class="p" style="left:341.8px;top:284.7px;width:13.0px;height:14.7px;background:#12d412"></i>
<i class="h" style="left:108.0px;top:284.1px;width:14.7px;height:16.3px;background:#0000ff"></i><i class="p" style="left:108.9px;top:284.9px;width:13.0px;height:14.7px;background:#12d412"></i>
<i class="h" style="left:390.5px;top:284.5px;width:14.7px;height:16.4px;background:#0000ff"></i><i class="p" style="left:391.4px;top:285.4px;width:13.0px;height:14.7px;background:#12d412"></i>
<i class="h" style="left:157.3px;top:284.8px;width:14.7px;height:16.4px;background:#0000ff"></i><i class="p" style="left:158.2px;top:285.6px;width:13.0px;height:14.7px;background:#12d412"></i>
<i class="h" style="left:440.2px;top:285.2px;width:14.8px;height:16.4px;background:#0000ff"></i><i class="p" style="left:441.1px;top:286.0px;width:13.0px;height:14.8px;background:#0a820a"></i>
<i class="h" style="left:206.7px;top:285.4px;width:14.8px;height:16.4px;background:#ff0000"></i>
<i class="h" style="left:490.0px;top:285.9px;width:14.8px;height:16.4px;background:#ff0000"></i>
<i class="h" style="left:256.2px;top:286.1px;width:14.8px;height:16.4px;background:#0000ff"></i><i class="p" style="left:257.1px;top:286.9px;width:13.0px;height:14.8px;background:#0a820a"></i>
<i class="h" style="left:22.3px;top:286.3px;width:14.8px;height:16.4px;background:#0000ff"></i><i class="p" style="left:23.2px;top:287.1px;width:13.0px;height:14.8px;background:#12d412"></i>
<i class="h" style="left:540.0px;top:286.5px;width:14.8px;height:16.4px;background:#ff0000"></i>
<i class="h" style="left:305.9px;top:286.7px;width:14.8px;height:16.4px;background:#ff0000"></i>
<i class="h" style="left:71.7px;top:286.9px;width:14.8px;height:16.4px;background:#0000ff"></i><i class="p" style="left:72.6px;top:287.8px;width:13.0px;height:14.8px;background:#0a820a"></i>
<i class="h" style="left:355.7px;top:287.4px;width:14.8px;height:16.4px;background:#ff0000"></i>
<i class="h" style="left:121.2px;top:287.6px;width:14.8px;height:16.4px;background:#0000ff"></i><i class="p" style="left:122.1px;top:288.4px;width:13.0px;height:14.8px;background:#12d412"></i>
<i class="h" style="left:405.6px;top:288.1px;width:14.8px;height:16.5px;background:#ff0000"></i>
<i class="h" style="left:170.9px;top:288.3px;width:14.8px;height:16.5px;background:#0000ff"></i><i class="p" style="left:171.7px;top:289.1px;width:13.1px;height:14.8px;background:#12d412"></i>
<i class="h" style="left:455.7px;top:288.7px;width:14.9px;height:16.5px;background:#ff0000"></i>
<i class="h" style="left:220.6px;top:288.9px;width:14.9px;height:16.5px;background:#0000ff"></i>
<i class="h" style="left:505.9px;top:289.4px;width:14.9px;height:16.5px;background:#0000ff"></i><i class="p" style="left:506.8px;top:290.2px;width:13.1px;height:14.9px;background:#0a820a"></i>
<i class="h" style="left:270.5px;top:289.6px;width:14.9px;height:16.5px;background:#0000ff"></i><i class="p" style="left:271.4px;top:290.4px;width:13.1px;height:14.9px;background:#12d412"></i>
<i class="h" style="left:35.1px;top:289.8px;width:14.9px;height:16.5px;background:#ff0000"></i>
<i class="h" style="left:556.2px;top:290.1px;width:14.9px;height:16.5px;background:#ff0000"></i>
<i class="h" style="left:320.5px;top:290.3px;width:14.9px;height:16.5px;background:#0000ff"></i><i class="p" style="left:321.4px;top:291.1px;width:13.1px;height:14.9px;background:#0a820a"></i>
<i class="h" style="left:84.8px;top:290.5px;width:14.9px;height:16.5px;background:#0000ff"></i><i class="p" style="left:85.7px;top:291.3px;width:13.1px;height:14.9px;background:#0a820a"></i>
<i class="h" style="left:370.7px;top:290.9px;width:14.9px;height:16.6px;background:#ff0000"></i>
<i class="h" style="left:134.6px;top:291.2px;width:14.9px;height:16.6px;background:#ff0000"></i>
<i class="h" style="left:421.0px;top:291.6px;width:14.9px;height:16.6px;background:#0000ff"></i><i class="p" style="left:421.9px;top:292.4px;width:13.1px;height:14.9px;background:#0a820a"></i>
<i class="h" style="left:184.6px;top:291.8px;width:14.9px;height:16.6px;background:#0000ff"></i><i class="p" style="left:185.5px;top:292.7px;width:13.1px;height:14.9px;background:#0a820a"></i>
<i class="h" style="left:471.4px;top:292.3px;width:15.0px;height:16.6px;background:#0000ff"></i><i class="p" style="left:472.3px;top:293.1px;width:13.2px;height:15.0px;background:#12d412"></i>
<i class="h" style="left:234.7px;top:292.5px;width:15.0px;height:16.6px;background:#0000ff"></i><i class="p" style="left:235.6px;top:293.3px;width:13.2px;height:15.0px;background:#12d412"></i>
<i class="h" style="left:522.0px;top:293.0px;width:15.0px;height:16.6px;background:#0000ff"></i><i class="p" style="left:522.9px;top:293.8px;width:13.2px;height:15.0px;background:#12d412"></i>
<i class="h" style="left:285.0px;top:293.2px;width:15.0px;height:16.6px;background:#0000ff"></i><i class="p" style="left:285.9px;top:294.0px;width:13.2px;height:15.0px;background:#0a820a"></i>
<i class="h" style="left:48.0px;top:293.4px;width:15.0px;height:16.6px;background:#ff0000"></i>
<i class="h" style="left:335.4px;top:293.9px;width:15.0px;height:16.6px;background:#0000ff"></i><i class="p" style="left:336.3px;top:294.7px;width:13.2px;height:15.0px;background:#12d412"></i>
<i class="h" style="left:98.0px;top:294.1px;width:15.0px;height:16.6px;background:#ff0000"></i>
<i class="h" style="left:385.9px;top:294.5px;width:15.0px;height:16.7px;background:#ff0000"></i>
<i class="h" style="left:148.2px;top:294.8px;width:15.0px;height:16.7px;background:#ff0000"></i>
<i class="h" style="left:436.5px;top:295.2px;width:15.0px;height:16.7px;background:#0000ff"></i><i class="p" style="left:437.4px;top:296.1px;width:13.2px;height:15.0px;background:#0a820a"></i>
<i class="h" style="left:198.6px;top:295.4px;width:15.0px;height:16.7px;background:#0000ff"></i><i class="p" style="left:199.5px;top:296.3px;width:13.2px;height:15.0px;background:#0a820a"></i>
<i class="h" style="left:487.3px;top:295.9px;width:15.1px;height:16.7px;background:#ff0000"></i>
<i class="h" style="left:249.1px;top:296.1px;width:15.1px;height:16.7px;background:#ff0000"></i>
<i class="h" style="left:538.2px;top:296.6px;width:15.1px;height:16.7px;background:#ff0000"></i>
<i class="h" style="left:299.7px;top:296.8px;width:15.1px;height:16.7px;background:#0000ff"></i><i class="p" style="left:300.6px;top:297.6px;width:13.3px;height:15.1px;background:#12d412"></i>
<i class="h" style="left:61.0px;top:297.0px;width:15.1px;height:16.7px;background:#0000ff"></i><i class="p" style="left:61.9px;top:297.9px;width:13.3px;height:15.1px;background:#12d412"></i>
<i class="h" style="left:350.4px;top:297.5px;width:15.1px;height:16.8px;background:#0000ff"></i><i class="p" style="left:351.3px;top:298.3px;width:13.3px;height:15.1px;background:#0a820a"></i>
<i class="h" style="left:111.5px;top:297.7px;width:15.1px;height:16.8px;background:#ff0000"></i>
<i class="h" style="left:401.3px;top:298.2px;width:15.1px;height:16.8px;background:#0000ff"></i><i class="p" style="left:402.2px;top:299.0px;width:13.3px;height:15.1px;background:#12d412"></i>
<i class="h" style="left:162.0px;top:298.4px;width:15.1px;height:16.8px;background:#0000ff"></i><i class="p" style="left:162.9px;top:299.2px;width:13.3px;height:15.1px;background:#12d412"></i>
<i class="h" style="left:212.7px;top:299.1px;width:15.1px;height:16.8px;background:#0000ff"></i>
<i class="h" style="left:503.5px;top:299.6px;width:15.2px;height:16.8px;background:#0000ff"></i><i class="p" style="left:504.4px;top:300.4px;width:13.3px;height:15.2px;background:#0a820a"></i>
<i class="h" style="left:263.6px;top:299.8px;width:15.2px;height:16.8px;background:#ff0000"></i>
<i class="h" style="left:554.7px;top:300.3px;width:15.2px;height:16.8px;background:#0000ff"></i><i class="p" style="left:555.7px;top:301.1px;width:13.4px;height:15.2px;background:#0a820a"></i>
<i class="h" style="left:314.5px;top:300.5px;width:15.2px;height:16.9px;background:#0000ff"></i>
<i class="h" style="left:74.3px;top:300.7px;width:15.2px;height:16.9px;background:#0000ff"></i><i class="p" style="left:75.2px;top:301.6px;width:13.4px;height:15.2px;background:#12d412"></i>
<i class="h" style="left:365.7px;top:301.2px;width:15.2px;height:16.9px;background:#0000ff"></i><i class="p" style="left:366.6px;top:302.0px;width:13.4px;height:15.2px;background:#12d412"></i>
<i class="h" style="left:125.1px;top:301.4px;width:15.2px;height:16.9px;background:#0000ff"></i><i class="p" style="left:126.0px;top:302.3px;width:13.4px;height:15.2px;background:#12d412"></i>
<i class="h" style="left:416.9px;top:301.9px;width:15.2px;height:16.9px;background:#0000ff"></i><i class="p" style="left:417.8px;top:302.7px;width:13.4px;height:15.2px;background:#0a820a"></i>
<i class="h" style="left:176.0px;top:302.1px;width:15.2px;height:16.9px;background:#ff0000"></i>
<i class="h" style="left:468.3px;top:302.6px;width:15.2px;height:16.9px;background:#ff0000"></i>
<i class="h" style="left:227.1px;top:302.8px;width:15.2px;height:16.9px;background:#0000ff"></i><i class="p" style="left:228.0px;top:303.7px;width:13.4px;height:15.2px;background:#0a820a"></i>
<i class="h" style="left:519.8px;top:303.3px;width:15.3px;height:16.9px;background:#ff0000"></i>
<i class="h" style="left:278.3px;top:303.5px;width:15.3px;height:16.9px;background:#ff0000"></i>
<i class="h" style="left:329.6px;top:304.2px;width:15.3px;height:17.0px;background:#ff0000"></i>
<i class="h" style="left:87.7px;top:304.5px;width:15.3px;height:17.0px;background:#ff0000"></i>
<i class="h" style="left:381.1px;top:304.9px;width:15.3px;height:17.0px;background:#0000ff"></i><i class="p" style="left:382.0px;top:305.8px;width:13.5px;height:15.3px;background:#12d412"></i>
<i class="h" style="left:138.9px;top:305.2px;width:15.3px;height:17.0px;background:#0000ff"></i>
<i class="h" style="left:432.7px;top:305.7px;width:15.3px;height:17.0px;background:#0000ff"></i><i class="p" style="left:433.6px;top:306.5px;width:13.5px;height:15.3px;background:#0a820a"></i>
<i class="h" style="left:190.2px;top:305.9px;width:15.3px;height:17.0px;background:#ff0000"></i>
<i class="h" style="left:484.5px;top:306.4px;width:15.3px;height:17.0px;background:#0000ff"></i><i class="p" style="left:485.4px;top:307.2px;width:13.5px;height:15.3px;background:#12d412"></i>
<i class="h" style="left:241.6px;top:306.6px;width:15.4px;height:17.0px;background:#0000ff"></i><i class="p" style="left:242.5px;top:307.4px;width:13.5px;height:15.4px;background:#0a820a"></i>
<i class="h" style="left:536.4px;top:307.1px;width:15.4px;height:17.1px;background:#0000ff"></i><i class="p" style="left:537.3px;top:307.9px;width:13.5px;height:15.4px;background:#0a820a"></i>
<i class="h" style="left:293.2px;top:307.3px;width:15.4px;height:17.1px;background:#0000ff"></i><i class="p" style="left:294.1px;top:308.1px;width:13.5px;height:15.4px;background:#12d412"></i>
<i class="h" style="left:344.9px;top:308.0px;width:15.4px;height:17.1px;background:#0000ff"></i><i class="p" style="left:345.8px;top:308.9px;width:13.5px;height:15.4px;background:#0a820a"></i>
<i class="h" style="left:101.3px;top:308.2px;width:15.4px;height:17.1px;background:#ff0000"></i>
<i class="h" style="left:396.8px;top:308.7px;width:15.4px;height:17.1px;background:#ff0000"></i>
<i class="h" style="left:152.9px;top:309.0px;width:15.4px;height:17.1px;background:#ff0000"></i>
<i class="h" style="left:448.8px;top:309.5px;width:15.4px;height:17.1px;background:#ff0000"></i>
<i class="h" style="left:204.5px;top:309.7px;width:15.4px;height:17.1px;background:#0000ff"></i><i class="p" style="left:205.5px;top:310.5px;width:13.6px;height:15.4px;background:#0a820a"></i>
<i class="h" style="left:500.9px;top:310.2px;width:15.5px;height:17.2px;background:#ff0000"></i>
<i class="h" style="left:256.3px;top:310.4px;width:15.5px;height:17.2px;background:#ff0000"></i>
<i class="h" style="left:553.2px;top:310.9px;width:15.5px;height:17.2px;background:#0000ff"></i>
<i class="h" style="left:308.3px;top:311.1px;width:15.5px;height:17.2px;background:#0000ff"></i><i class="p" style="left:309.2px;top:312.0px;width:13.6px;height:15.5px;background:#12d412"></i>
<i class="h" style="left:360.4px;top:311.9px;width:15.5px;height:17.2px;background:#0000ff"></i><i class="p" style="left:361.3px;top:312.7px;width:13.6px;height:15.5px;background:#0a820a"></i>
<i class="h" style="left:115.1px;top:312.1px;width:15.5px;height:17.2px;background:#ff0000"></i>
<i class="h" style="left:412.7px;top:312.6px;width:15.5px;height:17.2px;background:#0000ff"></i><i class="p" style="left:413.6px;top:313.4px;width:13.7px;height:15.5px;background:#0a820a"></i>
<i class="h" style="left:167.0px;top:312.8px;width:15.5px;height:17.2px;background:#ff0000"></i>
<i class="h" style="left:465.0px;top:313.3px;width:15.5px;height:17.3px;background:#0000ff"></i><i class="p" style="left:466.0px;top:314.2px;width:13.7px;height:15.5px;background:#12d412"></i>
<i class="h" style="left:219.1px;top:313.5px;width:15.5px;height:17.3px;background:#0000ff"></i><i class="p" style="left:220.0px;top:314.4px;width:13.7px;height:15.5px;background:#0a820a"></i>
<i class="h" style="left:517.6px;top:314.0px;width:15.6px;height:17.3px;background:#0000ff"></i><i class="p" style="left:518.5px;top:314.9px;width:13.7px;height:15.6px;background:#12d412"></i>
<i class="h" style="left:271.3px;top:314.3px;width:15.6px;height:17.3px;background:#ff0000"></i>
<i class="h" style="left:323.6px;top:315.0px;width:15.6px;height:17.3px;background:#ff0000"></i>
<i class="h" style="left:376.1px;top:315.7px;width:15.6px;height:17.3px;background:#0000ff"></i><i class="p" style="left:377.1px;top:316.6px;width:13.7px;height:15.6px;background:#12d412"></i>
<i class="h" style="left:129.1px;top:316.0px;width:15.6px;height:17.3px;background:#0000ff"></i><i class="p" style="left:130.1px;top:316.8px;width:13.7px;height:15.6px;background:#12d412"></i>
<i class="h" style="left:428.8px;top:316.5px;width:15.6px;height:17.3px;background:#0000ff"></i><i class="p" style="left:429.7px;top:317.3px;width:13.8px;height:15.6px;background:#0a820a"></i>
<i class="h" style="left:181.4px;top:316.7px;width:15.6px;height:17.4px;background:#ff0000"></i>
<i class="h" style="left:481.5px;top:317.2px;width:15.7px;height:17.4px;background:#ff0000"></i>
<i class="h" style="left:233.9px;top:317.4px;width:15.7px;height:17.4px;background:#0000ff"></i><i class="p" style="left:234.8px;top:318.3px;width:13.8px;height:15.7px;background:#12d412"></i>
<i class="h" style="left:534.5px;top:318.0px;width:15.7px;height:17.4px;background:#ff0000"></i>
<i class="h" style="left:286.5px;top:318.2px;width:15.7px;height:17.4px;background:#ff0000"></i>
<i class="h" style="left:339.2px;top:318.9px;width:15.7px;height:17.4px;background:#ff0000"></i>
<i class="h" style="left:392.1px;top:319.7px;width:15.7px;height:17.4px;background:#ff0000"></i>
<i class="h" style="left:143.3px;top:319.9px;width:15.7px;height:17.5px;background:#0000ff"></i><i class="p" style="left:144.3px;top:320.8px;width:13.8px;height:15.7px;background:#12d412"></i>
<i class="h" style="left:445.1px;top:320.4px;width:15.7px;height:17.5px;background:#ff0000"></i>
<i class="h" style="left:196.0px;top:320.7px;width:15.7px;height:17.5px;background:#0000ff"></i><i class="p" style="left:196.9px;top:321.5px;width:13.9px;height:15.7px;background:#12d412"></i>
<i class="h" style="left:248.8px;top:321.4px;width:15.8px;height:17.5px;background:#ff0000"></i>
<i class="h" style="left:551.6px;top:321.9px;width:15.8px;height:17.5px;background:#ff0000"></i>
<i class="h" style="left:301.8px;top:322.2px;width:15.8px;height:17.5px;background:#ff0000"></i>
<i class="h" style="left:355.0px;top:322.9px;width:15.8px;height:17.5px;background:#0000ff"></i><i class="p" style="left:355.9px;top:323.8px;width:13.9px;height:15.8px;background:#12d412"></i>
<i class="h" style="left:408.2px;top:323.7px;width:15.8px;height:17.6px;background:#0000ff"></i>
<i class="h" style="left:157.7px;top:323.9px;width:15.8px;height:17.6px;background:#ff0000"></i>
<i class="h" style="left:461.7px;top:324.5px;width:15.9px;height:17.6px;background:#ff0000"></i>
<i class="h" style="left:210.8px;top:324.7px;width:15.9px;height:17.6px;background:#ff0000"></i>
<i class="h" style="left:515.3px;top:325.2px;width:15.9px;height:17.6px;background:#ff0000"></i>
<i class="h" style="left:264.0px;top:325.4px;width:15.9px;height:17.6px;background:#ff0000"></i>
<i class="h" style="left:317.4px;top:326.2px;width:15.9px;height:17.6px;background:#ff0000"></i>
<i class="h" style="left:371.0px;top:327.0px;width:15.9px;height:17.7px;background:#0000ff"></i><i class="p" style="left:371.9px;top:327.9px;width:14.0px;height:15.9px;background:#0a820a"></i>
<i class="h" style="left:424.6px;top:327.7px;width:15.9px;height:17.7px;background:#ff0000"></i>
<i class="h" style="left:172.3px;top:328.0px;width:15.9px;height:17.7px;background:#0000ff"></i><i class="p" style="left:173.3px;top:328.9px;width:14.0px;height:15.9px;background:#12d412"></i>
<i class="h" style="left:478.5px;top:328.5px;width:16.0px;height:17.7px;background:#0000ff"></i><i class="p" style="left:479.4px;top:329.4px;width:14.1px;height:16.0px;background:#12d412"></i>
<i class="h" style="left:225.8px;top:328.8px;width:16.0px;height:17.7px;background:#0000ff"></i><i class="p" style="left:226.8px;top:329.6px;width:14.1px;height:16.0px;background:#12d412"></i>
<i class="h" style="left:532.5px;top:329.3px;width:16.0px;height:17.7px;background:#ff0000"></i>
<i class="h" style="left:279.4px;top:329.5px;width:16.0px;height:17.8px;background:#0000ff"></i><i class="p" style="left:280.4px;top:330.4px;width:14.1px;height:16.0px;background:#12d412"></i>
<i class="h" style="left:333.2px;top:330.3px;width:16.0px;height:17.8px;background:#ff0000"></i>
<i class="h" style="left:387.2px;top:331.1px;width:16.0px;height:17.8px;background:#0000ff"></i><i class="p" style="left:388.1px;top:332.0px;width:14.1px;height:16.0px;background:#0a820a"></i>
<i class="h" style="left:441.3px;top:331.9px;width:16.1px;height:17.8px;background:#ff0000"></i>
<i class="h" style="left:187.1px;top:332.1px;width:16.1px;height:17.8px;background:#ff0000"></i>
<i class="h" style="left:495.5px;top:332.6px;width:16.1px;height:17.9px;background:#ff0000"></i>
<i class="h" style="left:241.0px;top:332.9px;width:16.1px;height:17.9px;background:#ff0000"></i>
<i class="h" style="left:549.9px;top:333.4px;width:16.1px;height:17.9px;background:#0000ff"></i><i class="p" style="left:550.9px;top:334.3px;width:14.2px;height:16.1px;background:#12d412"></i>
<i class="h" style="left:295.1px;top:333.7px;width:16.1px;height:17.9px;background:#ff0000"></i>
<i class="h" style="left:349.3px;top:334.5px;width:16.1px;height:17.9px;background:#0000ff"></i><i class="p" style="left:350.3px;top:335.3px;width:14.2px;height:16.1px;background:#12d412"></i>
<i class="h" style="left:403.6px;top:335.3px;width:16.2px;height:17.9px;background:#0000ff"></i><i class="p" style="left:404.6px;top:336.1px;width:14.2px;height:16.2px;background:#0a820a"></i>
<i class="h" style="left:458.2px;top:336.0px;width:16.2px;height:18.0px;background:#0000ff"></i><i class="p" style="left:459.1px;top:336.9px;width:14.2px;height:16.2px;background:#12d412"></i>
<i class="h" style="left:202.2px;top:336.3px;width:16.2px;height:18.0px;background:#ff0000"></i>
<i class="h" style="left:512.8px;top:336.8px;width:16.2px;height:18.0px;background:#ff0000"></i>
<i class="h" style="left:256.5px;top:337.1px;width:16.2px;height:18.0px;background:#0000ff"></i><i class="p" style="left:257.4px;top:338.0px;width:14.3px;height:16.2px;background:#12d412"></i>
<i class="h" style="left:310.9px;top:337.9px;width:16.2px;height:18.0px;background:#ff0000"></i>
<i class="h" style="left:365.6px;top:338.7px;width:16.2px;height:18.0px;background:#0000ff"></i><i class="p" style="left:366.5px;top:339.6px;width:14.3px;height:16.2px;background:#12d412"></i>
<i class="h" style="left:420.4px;top:339.5px;width:16.3px;height:18.1px;background:#ff0000"></i>
<i class="h" style="left:475.3px;top:340.3px;width:16.3px;height:18.1px;background:#0000ff"></i><i class="p" style="left:476.3px;top:341.2px;width:14.3px;height:16.3px;background:#12d412"></i>
<i class="h" style="left:217.4px;top:340.5px;width:16.3px;height:18.1px;background:#0000ff"></i><i class="p" style="left:218.4px;top:341.4px;width:14.3px;height:16.3px;background:#12d412"></i>
<i class="h" style="left:530.4px;top:341.1px;width:16.3px;height:18.1px;background:#ff0000"></i>
<i class="h" style="left:272.1px;top:341.3px;width:16.3px;height:18.1px;background:#0000ff"></i><i class="p" style="left:273.1px;top:342.2px;width:14.4px;height:16.3px;background:#12d412"></i>
<i class="h" style="left:327.0px;top:342.1px;width:16.3px;height:18.1px;background:#ff0000"></i>
<i class="h" style="left:382.1px;top:343.0px;width:16.4px;height:18.2px;background:#0000ff"></i><i class="p" style="left:383.1px;top:343.9px;width:14.4px;height:16.4px;background:#12d412"></i>
<i class="h" style="left:437.3px;top:343.8px;width:16.4px;height:18.2px;background:#0000ff"></i><i class="p" style="left:438.3px;top:344.7px;width:14.4px;height:16.4px;background:#12d412"></i>
<i class="h" style="left:492.7px;top:344.6px;width:16.4px;height:18.2px;background:#0000ff"></i><i class="p" style="left:493.7px;top:345.5px;width:14.4px;height:16.4px;background:#12d412"></i>
<i class="h" style="left:232.9px;top:344.8px;width:16.4px;height:18.2px;background:#0000ff"></i><i class="p" style="left:233.9px;top:345.7px;width:14.4px;height:16.4px;background:#12d412"></i>
<i class="h" style="left:548.2px;top:345.4px;width:16.4px;height:18.2px;background:#ff0000"></i>
<i class="h" style="left:288.1px;top:345.6px;width:16.4px;height:18.3px;background:#0000ff"></i><i class="p" style="left:289.0px;top:346.6px;width:14.5px;height:16.4px;background:#12d412"></i>
<i class="h" style="left:343.4px;top:346.5px;width:16.5px;height:18.3px;background:#ff0000"></i>
<i class="h" style="left:398.9px;top:347.3px;width:16.5px;height:18.3px;background:#ff0000"></i>
<i class="h" style="left:454.5px;top:348.1px;width:16.5px;height:18.3px;background:#0000ff"></i><i class="p" style="left:455.5px;top:349.0px;width:14.5px;height:16.5px;background:#12d412"></i>
<i class="h" style="left:510.3px;top:349.0px;width:16.5px;height:18.4px;background:#ff0000"></i>
<i class="h" style="left:248.6px;top:349.2px;width:16.5px;height:18.4px;background:#ff0000"></i>
<i class="h" style="left:304.2px;top:350.0px;width:16.6px;height:18.4px;background:#0000ff"></i>
<i class="h" style="left:360.0px;top:350.9px;width:16.6px;height:18.4px;background:#ff0000"></i>
<i class="h" style="left:540.1px;top:343.3px;width:31.1px;height:34.5px;background:#e0849c"></i>
<i class="h" style="left:415.9px;top:351.7px;width:16.6px;height:18.4px;background:#0000ff"></i><i class="p" style="left:416.9px;top:352.6px;width:14.6px;height:16.6px;background:#12d412"></i>
<i class="h" style="left:472.0px;top:352.5px;width:16.6px;height:18.5px;background:#ff0000"></i>
<i class="h" style="left:528.2px;top:353.4px;width:16.7px;height:18.5px;background:#0000ff"></i><i class="p" style="left:529.2px;top:354.3px;width:14.7px;height:16.7px;background:#12d412"></i>
<i class="h" style="left:264.5px;top:353.6px;width:16.7px;height:18.5px;background:#ff0000"></i>
<i class="h" style="left:320.6px;top:354.5px;width:16.7px;height:18.5px;background:#ff0000"></i>
<i class="h" style="left:376.8px;top:355.3px;width:16.7px;height:18.6px;background:#ff0000"></i>
<i class="h" style="left:433.2px;top:356.2px;width:16.7px;height:18.6px;background:#ff0000"></i>
<i class="h" style="left:489.7px;top:357.0px;width:16.8px;height:18.6px;background:#ff0000"></i>
<i class="h" style="left:280.7px;top:358.1px;width:16.8px;height:18.6px;background:#0000ff"></i><i class="p" style="left:281.7px;top:359.1px;width:14.8px;height:16.8px;background:#12d412"></i>
<i class="h" style="left:337.2px;top:359.0px;width:16.8px;height:18.7px;background:#0000ff"></i><i class="p" style="left:338.2px;top:359.9px;width:14.8px;height:16.8px;background:#12d412"></i>
<i class="h" style="left:393.9px;top:359.8px;width:16.8px;height:18.7px;background:#ff0000"></i>
<i class="h" style="left:450.7px;top:360.7px;width:16.9px;height:18.7px;background:#0000ff"></i><i class="p" style="left:451.7px;top:361.6px;width:14.8px;height:16.9px;background:#12d412"></i>
<i class="h" style="left:507.7px;top:361.6px;width:16.9px;height:18.7px;background:#ff0000"></i>
<i class="h" style="left:297.2px;top:362.7px;width:16.9px;height:18.8px;background:#ff0000"></i>
<i class="h" style="left:354.1px;top:363.6px;width:16.9px;height:18.8px;background:#0000ff"></i><i class="p" style="left:355.1px;top:364.5px;width:14.9px;height:16.9px;background:#12d412"></i>
<i class="h" style="left:411.2px;top:364.4px;width:17.0px;height:18.8px;background:#ff0000"></i>
<i class="h" style="left:468.5px;top:365.3px;width:17.0px;height:18.9px;background:#0000ff"></i><i class="p" style="left:469.5px;top:366.3px;width:15.0px;height:17.0px;background:#0a820a"></i>
<i class="h" style="left:526.0px;top:366.2px;width:17.0px;height:18.9px;background:#ff0000"></i>
<i class="h" style="left:313.8px;top:367.3px;width:17.0px;height:18.9px;background:#ff0000"></i>
<i class="h" style="left:371.3px;top:368.2px;width:17.1px;height:19.0px;background:#0000ff"></i><i class="p" style="left:372.3px;top:369.2px;width:15.0px;height:17.1px;background:#0a820a"></i>
<i class="h" style="left:428.8px;top:369.1px;width:17.1px;height:19.0px;background:#0000ff"></i><i class="p" style="left:429.9px;top:370.1px;width:15.0px;height:17.1px;background:#12d412"></i>
<i class="h" style="left:486.6px;top:370.0px;width:17.1px;height:19.0px;background:#0000ff"></i><i class="p" style="left:487.6px;top:370.9px;width:15.1px;height:17.1px;background:#0a820a"></i>
<i class="h" style="left:544.5px;top:370.9px;width:17.2px;height:19.0px;background:#ff0000"></i>
<i class="h" style="left:330.8px;top:372.0px;width:17.2px;height:19.1px;background:#ff0000"></i>
<i class="h" style="left:388.7px;top:372.9px;width:17.2px;height:19.1px;background:#ff0000"></i>
<i class="h" style="left:446.7px;top:373.9px;width:17.2px;height:19.1px;background:#0000ff"></i><i class="p" style="left:447.7px;top:374.8px;width:15.2px;height:17.2px;background:#12d412"></i>
<i class="h" style="left:504.9px;top:374.8px;width:17.3px;height:19.2px;background:#0000ff"></i><i class="p" style="left:506.0px;top:375.7px;width:15.2px;height:17.3px;background:#12d412"></i>
<i class="h" style="left:348.0px;top:376.8px;width:17.3px;height:19.2px;background:#ff0000"></i>
<i class="h" style="left:406.3px;top:377.7px;width:17.3px;height:19.2px;background:#0000ff"></i><i class="p" style="left:407.4px;top:378.7px;width:15.3px;height:17.3px;background:#12d412"></i>
<i class="h" style="left:464.9px;top:378.7px;width:17.4px;height:19.3px;background:#ff0000"></i>
<i class="h" style="left:523.6px;top:379.6px;width:17.4px;height:19.3px;background:#0000ff"></i><i class="p" style="left:524.6px;top:380.5px;width:15.3px;height:17.4px;background:#12d412"></i>
<i class="h" style="left:365.5px;top:381.7px;width:17.5px;height:19.4px;background:#0000ff"></i><i class="p" style="left:366.5px;top:382.7px;width:15.4px;height:17.5px;background:#12d412"></i>
<i class="h" style="left:424.3px;top:382.6px;width:17.5px;height:19.4px;background:#ff0000"></i>
<i class="h" style="left:483.3px;top:383.6px;width:17.5px;height:19.4px;background:#0000ff"></i><i class="p" style="left:484.4px;top:384.5px;width:15.4px;height:17.5px;background:#12d412"></i>
<i class="h" style="left:542.5px;top:384.5px;width:17.5px;height:19.5px;background:#ff0000"></i>
<i class="h" style="left:383.2px;top:386.6px;width:17.6px;height:19.5px;background:#0000ff"></i><i class="p" style="left:384.3px;top:387.6px;width:15.5px;height:17.6px;background:#12d412"></i>
<i class="h" style="left:442.6px;top:387.6px;width:17.6px;height:19.6px;background:#ff0000"></i>
<i class="h" style="left:502.1px;top:388.5px;width:17.6px;height:19.6px;background:#0000ff"></i><i class="p" style="left:503.1px;top:389.5px;width:15.5px;height:17.6px;background:#0a820a"></i>
<i class="h" style="left:401.3px;top:391.6px;width:17.7px;height:19.7px;background:#ff0000"></i>
<i class="h" style="left:461.1px;top:392.6px;width:17.8px;height:19.7px;background:#0000ff"></i><i class="p" style="left:462.2px;top:393.6px;width:15.6px;height:17.8px;background:#12d412"></i>
<i class="h" style="left:521.1px;top:393.6px;width:17.8px;height:19.7px;background:#ff0000"></i>
<i class="h" style="left:419.6px;top:396.7px;width:17.9px;height:19.8px;background:#0000ff"></i><i class="p" style="left:420.7px;top:397.7px;width:15.7px;height:17.9px;background:#0a820a"></i>
<i class="h" style="left:479.9px;top:397.7px;width:17.9px;height:19.9px;background:#0000ff"></i>
<i class="h" style="left:540.5px;top:398.7px;width:17.9px;height:19.9px;background:#ff0000"></i>
<i class="h" style="left:438.2px;top:401.9px;width:18.0px;height:20.0px;background:#0000ff"></i><i class="p" style="left:439.3px;top:402.9px;width:15.9px;height:18.0px;background:#12d412"></i>
<i class="h" style="left:499.1px;top:402.9px;width:18.0px;height:20.0px;background:#0000ff"></i><i class="p" style="left:500.2px;top:403.9px;width:15.9px;height:18.0px;background:#12d412"></i>
<i class="h" style="left:457.1px;top:407.2px;width:18.2px;height:20.2px;background:#0000ff"></i><i class="p" style="left:458.2px;top:408.2px;width:16.0px;height:18.2px;background:#0a820a"></i>
<i class="h" style="left:518.5px;top:408.2px;width:18.2px;height:20.2px;background:#0000ff"></i><i class="p" style="left:519.6px;top:409.2px;width:16.0px;height:18.2px;background:#0a820a"></i>
<i class="h" style="left:476.4px;top:412.5px;width:18.3px;height:20.3px;background:#0000ff"></i><i class="p" style="left:477.5px;top:413.5px;width:16.1px;height:18.3px;background:#12d412"></i>
<i class="h" style="left:538.3px;top:413.6px;width:18.3px;height:20.4px;background:#0000ff"></i><i class="p" style="left:539.4px;top:414.6px;width:16.1px;height:18.3px;background:#12d412"></i>
<i class="h" style="left:495.9px;top:418.0px;width:18.5px;height:20.5px;background:#0000ff"></i><i class="p" style="left:497.1px;top:419.0px;width:16.3px;height:18.5px;background:#12d412"></i>
<i class="h" style="left:515.8px;top:423.5px;width:18.6px;height:20.7px;background:#ff0000"></i>
<i class="h" style="left:536.1px;top:429.1px;width:18.8px;height:20.8px;background:#ff0000"></i>
<svg width="645" height="476" style="position:absolute;left:0;top:0" fill="none" stroke="#d2d2d2" stroke-width="1">
<path d="M19.5 302.2L14.9 290.9L252.7 85.4L591.3 137.1L553.9 455.4L19.5 302.2"/>
<path d="M589.6 147L556.2 441"/>
<path d="M252.7 85.4L253.1 89"/>
</svg>
</div></body></html>
